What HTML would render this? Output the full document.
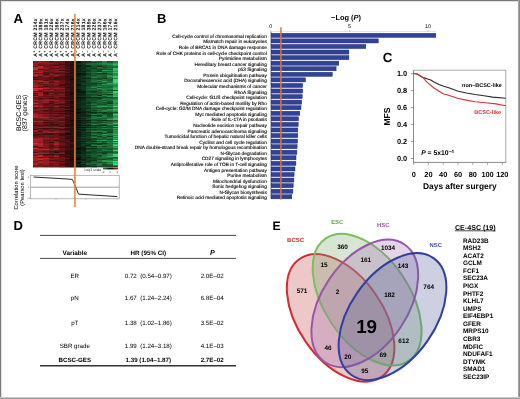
<!DOCTYPE html>
<html><head><meta charset="utf-8"><style>
html,body{margin:0;padding:0;background:#fff;}
body{width:520px;height:399px;overflow:hidden;}
svg{display:block;filter:blur(0.25px);font-family:"Liberation Sans", sans-serif;text-rendering:geometricPrecision;}
</style></head><body>
<svg width="520" height="399" viewBox="0 0 520 399">
<rect width="520" height="399" fill="#fff"/>
<rect x="0" y="1" width="520" height="1" fill="#e2e2e2"/>
<rect x="1" y="0" width="1" height="399" fill="#e2e2e2"/>
<rect x="0" y="0" width="520" height="1" fill="#7a7a7a"/>
<rect x="0" y="0" width="1" height="399" fill="#7a7a7a"/>
<rect x="518" y="0" width="1" height="399" fill="#a4a4a4"/>
<rect x="519" y="0" width="1" height="399" fill="#8a8a8a"/>
<rect x="0" y="397" width="520" height="1" fill="#cacaca"/>
<rect x="0" y="398" width="520" height="1" fill="#9a9a9a"/>
<text x="13.6" y="23" font-size="13.2" font-weight="bold" text-anchor="start" fill="#000" >A</text>
<defs><filter id="hb" x="-2%" y="-2%" width="104%" height="104%"><feGaussianBlur stdDeviation="0.45 0.3"/></filter><clipPath id="hc"><rect x="32.5" y="60.6" width="85.5" height="107"/></clipPath></defs>
<g clip-path="url(#hc)"><g filter="url(#hb)" shape-rendering="crispEdges">
<rect x="32.5" y="60.6" width="5.39" height="1.05" fill="#841a1e"/>
<rect x="32.5" y="61.6" width="5.39" height="1.05" fill="#841a1e"/>
<rect x="32.5" y="62.6" width="5.39" height="1.05" fill="#921d21"/>
<rect x="32.5" y="63.6" width="5.39" height="1.05" fill="#901c20"/>
<rect x="32.5" y="64.6" width="5.39" height="1.05" fill="#9c1f23"/>
<rect x="32.5" y="65.6" width="5.39" height="1.05" fill="#6b1518"/>
<rect x="32.5" y="66.6" width="5.39" height="1.05" fill="#c8282d"/>
<rect x="32.5" y="67.6" width="5.39" height="1.05" fill="#c1262c"/>
<rect x="32.5" y="68.6" width="5.39" height="1.05" fill="#d0292f"/>
<rect x="32.5" y="69.6" width="5.39" height="1.05" fill="#8b1b1f"/>
<rect x="32.5" y="70.6" width="5.39" height="1.05" fill="#7e191c"/>
<rect x="32.5" y="71.6" width="5.39" height="1.05" fill="#ad2227"/>
<rect x="32.5" y="72.6" width="5.39" height="1.05" fill="#6b1518"/>
<rect x="32.5" y="73.6" width="5.39" height="1.05" fill="#a12025"/>
<rect x="32.5" y="74.6" width="5.39" height="1.05" fill="#c1262c"/>
<rect x="32.5" y="75.6" width="5.39" height="1.05" fill="#8e1c20"/>
<rect x="32.5" y="76.6" width="5.39" height="1.05" fill="#380b0c"/>
<rect x="32.5" y="77.6" width="5.39" height="1.05" fill="#5f1315"/>
<rect x="32.5" y="78.6" width="5.39" height="1.05" fill="#4c0f11"/>
<rect x="32.5" y="79.6" width="5.39" height="1.05" fill="#971e22"/>
<rect x="32.5" y="80.6" width="5.39" height="1.05" fill="#9b1f23"/>
<rect x="32.5" y="81.6" width="5.39" height="1.05" fill="#7a181b"/>
<rect x="32.5" y="82.6" width="5.39" height="1.05" fill="#961e22"/>
<rect x="32.5" y="83.6" width="5.39" height="1.05" fill="#931d21"/>
<rect x="32.5" y="84.6" width="5.39" height="1.05" fill="#941d22"/>
<rect x="32.5" y="85.6" width="5.39" height="1.05" fill="#bb252a"/>
<rect x="32.5" y="86.6" width="5.39" height="1.05" fill="#7c181c"/>
<rect x="32.5" y="87.6" width="5.39" height="1.05" fill="#d42a30"/>
<rect x="32.5" y="88.6" width="5.39" height="1.05" fill="#c4272d"/>
<rect x="32.5" y="89.6" width="5.39" height="1.05" fill="#da2b31"/>
<rect x="32.5" y="90.6" width="5.39" height="1.05" fill="#6d1519"/>
<rect x="32.5" y="91.6" width="5.39" height="1.05" fill="#921d21"/>
<rect x="32.5" y="92.6" width="5.39" height="1.05" fill="#521012"/>
<rect x="32.5" y="93.6" width="5.39" height="1.05" fill="#6b1518"/>
<rect x="32.5" y="94.6" width="5.39" height="1.05" fill="#5d1215"/>
<rect x="32.5" y="95.6" width="5.39" height="1.05" fill="#b02328"/>
<rect x="32.5" y="96.6" width="5.39" height="1.05" fill="#621316"/>
<rect x="32.5" y="97.6" width="5.39" height="1.05" fill="#77171b"/>
<rect x="32.5" y="98.6" width="5.39" height="1.05" fill="#7c181c"/>
<rect x="32.5" y="99.6" width="5.39" height="1.05" fill="#a42025"/>
<rect x="32.5" y="100.6" width="5.39" height="1.05" fill="#6c1518"/>
<rect x="32.5" y="101.6" width="5.39" height="1.05" fill="#971e22"/>
<rect x="32.5" y="102.6" width="5.39" height="1.05" fill="#ca282e"/>
<rect x="32.5" y="103.6" width="5.39" height="1.05" fill="#6d1519"/>
<rect x="32.5" y="104.6" width="5.39" height="1.05" fill="#9b1f23"/>
<rect x="32.5" y="105.6" width="5.39" height="1.05" fill="#c8282d"/>
<rect x="32.5" y="106.6" width="5.39" height="1.05" fill="#5d1215"/>
<rect x="32.5" y="107.6" width="5.39" height="1.05" fill="#631316"/>
<rect x="32.5" y="108.6" width="5.39" height="1.05" fill="#7a181b"/>
<rect x="32.5" y="109.6" width="5.39" height="1.05" fill="#951d22"/>
<rect x="32.5" y="110.6" width="5.39" height="1.05" fill="#641417"/>
<rect x="32.5" y="111.6" width="5.39" height="1.05" fill="#7a181b"/>
<rect x="32.5" y="112.6" width="5.39" height="1.05" fill="#831a1e"/>
<rect x="32.5" y="113.6" width="5.39" height="1.05" fill="#b62429"/>
<rect x="32.5" y="114.6" width="5.39" height="1.05" fill="#9a1e23"/>
<rect x="32.5" y="115.6" width="5.39" height="1.05" fill="#b9252a"/>
<rect x="32.5" y="116.6" width="5.39" height="1.05" fill="#af2328"/>
<rect x="32.5" y="117.6" width="5.39" height="1.05" fill="#701619"/>
<rect x="32.5" y="118.6" width="5.39" height="1.05" fill="#611316"/>
<rect x="32.5" y="119.6" width="5.39" height="1.05" fill="#621316"/>
<rect x="32.5" y="120.6" width="5.39" height="1.05" fill="#b52429"/>
<rect x="32.5" y="121.6" width="5.39" height="1.05" fill="#701619"/>
<rect x="32.5" y="122.6" width="5.39" height="1.05" fill="#6a1518"/>
<rect x="32.5" y="123.6" width="5.39" height="1.05" fill="#5f1315"/>
<rect x="32.5" y="124.6" width="5.39" height="1.05" fill="#531012"/>
<rect x="32.5" y="125.6" width="5.39" height="1.05" fill="#7d191c"/>
<rect x="32.5" y="126.6" width="5.39" height="1.05" fill="#7f191d"/>
<rect x="32.5" y="127.6" width="5.39" height="1.05" fill="#681417"/>
<rect x="32.5" y="128.6" width="5.39" height="1.05" fill="#390b0d"/>
<rect x="32.5" y="129.6" width="5.39" height="1.05" fill="#9a1e23"/>
<rect x="32.5" y="130.6" width="5.39" height="1.05" fill="#941d21"/>
<rect x="32.5" y="131.6" width="5.39" height="1.05" fill="#5d1215"/>
<rect x="32.5" y="132.6" width="5.39" height="1.05" fill="#72161a"/>
<rect x="32.5" y="133.6" width="5.39" height="1.05" fill="#521012"/>
<rect x="32.5" y="134.6" width="5.39" height="1.05" fill="#511012"/>
<rect x="32.5" y="135.6" width="5.39" height="1.05" fill="#661417"/>
<rect x="32.5" y="136.6" width="5.39" height="1.05" fill="#7b181c"/>
<rect x="32.5" y="137.6" width="5.39" height="1.05" fill="#911d21"/>
<rect x="32.5" y="138.6" width="5.39" height="1.05" fill="#bc252b"/>
<rect x="32.5" y="139.6" width="5.39" height="1.05" fill="#a42025"/>
<rect x="32.5" y="140.6" width="5.39" height="1.05" fill="#a42025"/>
<rect x="32.5" y="141.6" width="5.39" height="1.05" fill="#9e1f24"/>
<rect x="32.5" y="142.6" width="5.39" height="1.05" fill="#db2b32"/>
<rect x="32.5" y="143.6" width="5.39" height="1.05" fill="#ad2227"/>
<rect x="32.5" y="144.6" width="5.39" height="1.05" fill="#a42025"/>
<rect x="32.5" y="145.6" width="5.39" height="1.05" fill="#581114"/>
<rect x="32.5" y="146.6" width="5.39" height="1.05" fill="#7e191c"/>
<rect x="32.5" y="147.6" width="5.39" height="1.05" fill="#d22a30"/>
<rect x="32.5" y="148.6" width="5.39" height="1.05" fill="#961e22"/>
<rect x="32.5" y="149.6" width="5.39" height="1.05" fill="#881b1f"/>
<rect x="32.5" y="150.6" width="5.39" height="1.05" fill="#881b1f"/>
<rect x="32.5" y="151.6" width="5.39" height="1.05" fill="#521012"/>
<rect x="32.5" y="152.6" width="5.39" height="1.05" fill="#ac2227"/>
<rect x="32.5" y="153.6" width="5.39" height="1.05" fill="#971e22"/>
<rect x="32.5" y="154.6" width="5.39" height="1.05" fill="#6e1619"/>
<rect x="32.5" y="155.6" width="5.39" height="1.05" fill="#b72429"/>
<rect x="32.5" y="156.6" width="5.39" height="1.05" fill="#9a1e23"/>
<rect x="32.5" y="157.6" width="5.39" height="1.05" fill="#a92126"/>
<rect x="32.5" y="158.6" width="5.39" height="1.05" fill="#a82126"/>
<rect x="32.5" y="159.6" width="5.39" height="1.05" fill="#a12024"/>
<rect x="32.5" y="160.6" width="5.39" height="1.05" fill="#78181b"/>
<rect x="32.5" y="161.6" width="5.39" height="1.05" fill="#961e22"/>
<rect x="32.5" y="162.6" width="5.39" height="1.05" fill="#961e22"/>
<rect x="32.5" y="163.6" width="5.39" height="1.05" fill="#bf262b"/>
<rect x="32.5" y="164.6" width="5.39" height="1.05" fill="#7d191c"/>
<rect x="32.5" y="165.6" width="5.39" height="1.05" fill="#7e191c"/>
<rect x="32.5" y="166.6" width="5.39" height="1.05" fill="#80191d"/>
<rect x="37.8" y="60.6" width="5.39" height="1.05" fill="#74181b"/>
<rect x="37.8" y="61.6" width="5.39" height="1.05" fill="#a42227"/>
<rect x="37.8" y="62.6" width="5.39" height="1.05" fill="#801a1e"/>
<rect x="37.8" y="63.6" width="5.39" height="1.05" fill="#661518"/>
<rect x="37.8" y="64.6" width="5.39" height="1.05" fill="#5d1316"/>
<rect x="37.8" y="65.6" width="5.39" height="1.05" fill="#c0282e"/>
<rect x="37.8" y="66.6" width="5.39" height="1.05" fill="#ba262c"/>
<rect x="37.8" y="67.6" width="5.39" height="1.05" fill="#9b2025"/>
<rect x="37.8" y="68.6" width="5.39" height="1.05" fill="#480f11"/>
<rect x="37.8" y="69.6" width="5.39" height="1.05" fill="#971f24"/>
<rect x="37.8" y="70.6" width="5.39" height="1.05" fill="#961f23"/>
<rect x="37.8" y="71.6" width="5.39" height="1.05" fill="#b2252a"/>
<rect x="37.8" y="72.6" width="5.39" height="1.05" fill="#691519"/>
<rect x="37.8" y="73.6" width="5.39" height="1.05" fill="#901e22"/>
<rect x="37.8" y="74.6" width="5.39" height="1.05" fill="#9a2024"/>
<rect x="37.8" y="75.6" width="5.39" height="1.05" fill="#551114"/>
<rect x="37.8" y="76.6" width="5.39" height="1.05" fill="#75181b"/>
<rect x="37.8" y="77.6" width="5.39" height="1.05" fill="#661518"/>
<rect x="37.8" y="78.6" width="5.39" height="1.05" fill="#601417"/>
<rect x="37.8" y="79.6" width="5.39" height="1.05" fill="#981f24"/>
<rect x="37.8" y="80.6" width="5.39" height="1.05" fill="#b9262c"/>
<rect x="37.8" y="81.6" width="5.39" height="1.05" fill="#5c1316"/>
<rect x="37.8" y="82.6" width="5.39" height="1.05" fill="#79191c"/>
<rect x="37.8" y="83.6" width="5.39" height="1.05" fill="#7c191d"/>
<rect x="37.8" y="84.6" width="5.39" height="1.05" fill="#8d1d21"/>
<rect x="37.8" y="85.6" width="5.39" height="1.05" fill="#7e1a1e"/>
<rect x="37.8" y="86.6" width="5.39" height="1.05" fill="#5e1316"/>
<rect x="37.8" y="87.6" width="5.39" height="1.05" fill="#d02b31"/>
<rect x="37.8" y="88.6" width="5.39" height="1.05" fill="#aa2328"/>
<rect x="37.8" y="89.6" width="5.39" height="1.05" fill="#74181b"/>
<rect x="37.8" y="90.6" width="5.39" height="1.05" fill="#561114"/>
<rect x="37.8" y="91.6" width="5.39" height="1.05" fill="#9a2024"/>
<rect x="37.8" y="92.6" width="5.39" height="1.05" fill="#931e23"/>
<rect x="37.8" y="93.6" width="5.39" height="1.05" fill="#ae2429"/>
<rect x="37.8" y="94.6" width="5.39" height="1.05" fill="#a52227"/>
<rect x="37.8" y="95.6" width="5.39" height="1.05" fill="#6f171a"/>
<rect x="37.8" y="96.6" width="5.39" height="1.05" fill="#7f1a1e"/>
<rect x="37.8" y="97.6" width="5.39" height="1.05" fill="#3f0d0f"/>
<rect x="37.8" y="98.6" width="5.39" height="1.05" fill="#651518"/>
<rect x="37.8" y="99.6" width="5.39" height="1.05" fill="#971f24"/>
<rect x="37.8" y="100.6" width="5.39" height="1.05" fill="#7e1a1e"/>
<rect x="37.8" y="101.6" width="5.39" height="1.05" fill="#73171b"/>
<rect x="37.8" y="102.6" width="5.39" height="1.05" fill="#861c20"/>
<rect x="37.8" y="103.6" width="5.39" height="1.05" fill="#6e161a"/>
<rect x="37.8" y="104.6" width="5.39" height="1.05" fill="#8c1d21"/>
<rect x="37.8" y="105.6" width="5.39" height="1.05" fill="#af2429"/>
<rect x="37.8" y="106.6" width="5.39" height="1.05" fill="#5e1316"/>
<rect x="37.8" y="107.6" width="5.39" height="1.05" fill="#73181b"/>
<rect x="37.8" y="108.6" width="5.39" height="1.05" fill="#941e23"/>
<rect x="37.8" y="109.6" width="5.39" height="1.05" fill="#73171b"/>
<rect x="37.8" y="110.6" width="5.39" height="1.05" fill="#74181b"/>
<rect x="37.8" y="111.6" width="5.39" height="1.05" fill="#70171a"/>
<rect x="37.8" y="112.6" width="5.39" height="1.05" fill="#651518"/>
<rect x="37.8" y="113.6" width="5.39" height="1.05" fill="#8e1d22"/>
<rect x="37.8" y="114.6" width="5.39" height="1.05" fill="#931e23"/>
<rect x="37.8" y="115.6" width="5.39" height="1.05" fill="#941e23"/>
<rect x="37.8" y="116.6" width="5.39" height="1.05" fill="#a32127"/>
<rect x="37.8" y="117.6" width="5.39" height="1.05" fill="#851b1f"/>
<rect x="37.8" y="118.6" width="5.39" height="1.05" fill="#631417"/>
<rect x="37.8" y="119.6" width="5.39" height="1.05" fill="#71171b"/>
<rect x="37.8" y="120.6" width="5.39" height="1.05" fill="#ab2328"/>
<rect x="37.8" y="121.6" width="5.39" height="1.05" fill="#801a1e"/>
<rect x="37.8" y="122.6" width="5.39" height="1.05" fill="#74181b"/>
<rect x="37.8" y="123.6" width="5.39" height="1.05" fill="#72171b"/>
<rect x="37.8" y="124.6" width="5.39" height="1.05" fill="#591215"/>
<rect x="37.8" y="125.6" width="5.39" height="1.05" fill="#4a0f11"/>
<rect x="37.8" y="126.6" width="5.39" height="1.05" fill="#9c2025"/>
<rect x="37.8" y="127.6" width="5.39" height="1.05" fill="#490f11"/>
<rect x="37.8" y="128.6" width="5.39" height="1.05" fill="#74181b"/>
<rect x="37.8" y="129.6" width="5.39" height="1.05" fill="#691519"/>
<rect x="37.8" y="130.6" width="5.39" height="1.05" fill="#4b0f11"/>
<rect x="37.8" y="131.6" width="5.39" height="1.05" fill="#6f171a"/>
<rect x="37.8" y="132.6" width="5.39" height="1.05" fill="#7a191d"/>
<rect x="37.8" y="133.6" width="5.39" height="1.05" fill="#4a0f11"/>
<rect x="37.8" y="134.6" width="5.39" height="1.05" fill="#631417"/>
<rect x="37.8" y="135.6" width="5.39" height="1.05" fill="#611417"/>
<rect x="37.8" y="136.6" width="5.39" height="1.05" fill="#77181c"/>
<rect x="37.8" y="137.6" width="5.39" height="1.05" fill="#a32227"/>
<rect x="37.8" y="138.6" width="5.39" height="1.05" fill="#9c2025"/>
<rect x="37.8" y="139.6" width="5.39" height="1.05" fill="#ac2329"/>
<rect x="37.8" y="140.6" width="5.39" height="1.05" fill="#991f24"/>
<rect x="37.8" y="141.6" width="5.39" height="1.05" fill="#891c20"/>
<rect x="37.8" y="142.6" width="5.39" height="1.05" fill="#b4252a"/>
<rect x="37.8" y="143.6" width="5.39" height="1.05" fill="#bd272d"/>
<rect x="37.8" y="144.6" width="5.39" height="1.05" fill="#a72227"/>
<rect x="37.8" y="145.6" width="5.39" height="1.05" fill="#a92328"/>
<rect x="37.8" y="146.6" width="5.39" height="1.05" fill="#4d1012"/>
<rect x="37.8" y="147.6" width="5.39" height="1.05" fill="#961f23"/>
<rect x="37.8" y="148.6" width="5.39" height="1.05" fill="#aa2328"/>
<rect x="37.8" y="149.6" width="5.39" height="1.05" fill="#841b1f"/>
<rect x="37.8" y="150.6" width="5.39" height="1.05" fill="#6f171a"/>
<rect x="37.8" y="151.6" width="5.39" height="1.05" fill="#831b1f"/>
<rect x="37.8" y="152.6" width="5.39" height="1.05" fill="#ad2329"/>
<rect x="37.8" y="153.6" width="5.39" height="1.05" fill="#5a1215"/>
<rect x="37.8" y="154.6" width="5.39" height="1.05" fill="#be272d"/>
<rect x="37.8" y="155.6" width="5.39" height="1.05" fill="#bb262c"/>
<rect x="37.8" y="156.6" width="5.39" height="1.05" fill="#631417"/>
<rect x="37.8" y="157.6" width="5.39" height="1.05" fill="#a42227"/>
<rect x="37.8" y="158.6" width="5.39" height="1.05" fill="#d02b31"/>
<rect x="37.8" y="159.6" width="5.39" height="1.05" fill="#76181c"/>
<rect x="37.8" y="160.6" width="5.39" height="1.05" fill="#a02126"/>
<rect x="37.8" y="161.6" width="5.39" height="1.05" fill="#aa2328"/>
<rect x="37.8" y="162.6" width="5.39" height="1.05" fill="#841b1f"/>
<rect x="37.8" y="163.6" width="5.39" height="1.05" fill="#74181b"/>
<rect x="37.8" y="164.6" width="5.39" height="1.05" fill="#79191c"/>
<rect x="37.8" y="165.6" width="5.39" height="1.05" fill="#821b1f"/>
<rect x="37.8" y="166.6" width="5.39" height="1.05" fill="#b8262b"/>
<rect x="43.2" y="60.6" width="5.39" height="1.05" fill="#851b20"/>
<rect x="43.2" y="61.6" width="5.39" height="1.05" fill="#811b1f"/>
<rect x="43.2" y="62.6" width="5.39" height="1.05" fill="#871c20"/>
<rect x="43.2" y="63.6" width="5.39" height="1.05" fill="#7e1a1e"/>
<rect x="43.2" y="64.6" width="5.39" height="1.05" fill="#6b1619"/>
<rect x="43.2" y="65.6" width="5.39" height="1.05" fill="#75181c"/>
<rect x="43.2" y="66.6" width="5.39" height="1.05" fill="#851b20"/>
<rect x="43.2" y="67.6" width="5.39" height="1.05" fill="#911e23"/>
<rect x="43.2" y="68.6" width="5.39" height="1.05" fill="#6d161a"/>
<rect x="43.2" y="69.6" width="5.39" height="1.05" fill="#6c161a"/>
<rect x="43.2" y="70.6" width="5.39" height="1.05" fill="#7f1a1e"/>
<rect x="43.2" y="71.6" width="5.39" height="1.05" fill="#571215"/>
<rect x="43.2" y="72.6" width="5.39" height="1.05" fill="#521113"/>
<rect x="43.2" y="73.6" width="5.39" height="1.05" fill="#501013"/>
<rect x="43.2" y="74.6" width="5.39" height="1.05" fill="#6f171a"/>
<rect x="43.2" y="75.6" width="5.39" height="1.05" fill="#8f1d22"/>
<rect x="43.2" y="76.6" width="5.39" height="1.05" fill="#631418"/>
<rect x="43.2" y="77.6" width="5.39" height="1.05" fill="#571215"/>
<rect x="43.2" y="78.6" width="5.39" height="1.05" fill="#631417"/>
<rect x="43.2" y="79.6" width="5.39" height="1.05" fill="#4f1013"/>
<rect x="43.2" y="80.6" width="5.39" height="1.05" fill="#ab2329"/>
<rect x="43.2" y="81.6" width="5.39" height="1.05" fill="#831b1f"/>
<rect x="43.2" y="82.6" width="5.39" height="1.05" fill="#9d2026"/>
<rect x="43.2" y="83.6" width="5.39" height="1.05" fill="#591215"/>
<rect x="43.2" y="84.6" width="5.39" height="1.05" fill="#78191d"/>
<rect x="43.2" y="85.6" width="5.39" height="1.05" fill="#501013"/>
<rect x="43.2" y="86.6" width="5.39" height="1.05" fill="#7c1a1e"/>
<rect x="43.2" y="87.6" width="5.39" height="1.05" fill="#b3252b"/>
<rect x="43.2" y="88.6" width="5.39" height="1.05" fill="#501013"/>
<rect x="43.2" y="89.6" width="5.39" height="1.05" fill="#8c1d21"/>
<rect x="43.2" y="90.6" width="5.39" height="1.05" fill="#7a191d"/>
<rect x="43.2" y="91.6" width="5.39" height="1.05" fill="#450e10"/>
<rect x="43.2" y="92.6" width="5.39" height="1.05" fill="#480f11"/>
<rect x="43.2" y="93.6" width="5.39" height="1.05" fill="#5c1316"/>
<rect x="43.2" y="94.6" width="5.39" height="1.05" fill="#72171b"/>
<rect x="43.2" y="95.6" width="5.39" height="1.05" fill="#591215"/>
<rect x="43.2" y="96.6" width="5.39" height="1.05" fill="#70171b"/>
<rect x="43.2" y="97.6" width="5.39" height="1.05" fill="#6b161a"/>
<rect x="43.2" y="98.6" width="5.39" height="1.05" fill="#7c191e"/>
<rect x="43.2" y="99.6" width="5.39" height="1.05" fill="#a12127"/>
<rect x="43.2" y="100.6" width="5.39" height="1.05" fill="#891c21"/>
<rect x="43.2" y="101.6" width="5.39" height="1.05" fill="#991f25"/>
<rect x="43.2" y="102.6" width="5.39" height="1.05" fill="#5e1316"/>
<rect x="43.2" y="103.6" width="5.39" height="1.05" fill="#531114"/>
<rect x="43.2" y="104.6" width="5.39" height="1.05" fill="#5f1317"/>
<rect x="43.2" y="105.6" width="5.39" height="1.05" fill="#70171b"/>
<rect x="43.2" y="106.6" width="5.39" height="1.05" fill="#521113"/>
<rect x="43.2" y="107.6" width="5.39" height="1.05" fill="#72171b"/>
<rect x="43.2" y="108.6" width="5.39" height="1.05" fill="#811b1f"/>
<rect x="43.2" y="109.6" width="5.39" height="1.05" fill="#470e11"/>
<rect x="43.2" y="110.6" width="5.39" height="1.05" fill="#611417"/>
<rect x="43.2" y="111.6" width="5.39" height="1.05" fill="#76181c"/>
<rect x="43.2" y="112.6" width="5.39" height="1.05" fill="#591215"/>
<rect x="43.2" y="113.6" width="5.39" height="1.05" fill="#7e1a1e"/>
<rect x="43.2" y="114.6" width="5.39" height="1.05" fill="#821b1f"/>
<rect x="43.2" y="115.6" width="5.39" height="1.05" fill="#74181c"/>
<rect x="43.2" y="116.6" width="5.39" height="1.05" fill="#a62228"/>
<rect x="43.2" y="117.6" width="5.39" height="1.05" fill="#871c20"/>
<rect x="43.2" y="118.6" width="5.39" height="1.05" fill="#78191d"/>
<rect x="43.2" y="119.6" width="5.39" height="1.05" fill="#531114"/>
<rect x="43.2" y="120.6" width="5.39" height="1.05" fill="#7e1a1e"/>
<rect x="43.2" y="121.6" width="5.39" height="1.05" fill="#310a0c"/>
<rect x="43.2" y="122.6" width="5.39" height="1.05" fill="#591215"/>
<rect x="43.2" y="123.6" width="5.39" height="1.05" fill="#611417"/>
<rect x="43.2" y="124.6" width="5.39" height="1.05" fill="#470e11"/>
<rect x="43.2" y="125.6" width="5.39" height="1.05" fill="#72171b"/>
<rect x="43.2" y="126.6" width="5.39" height="1.05" fill="#931e23"/>
<rect x="43.2" y="127.6" width="5.39" height="1.05" fill="#3c0c0e"/>
<rect x="43.2" y="128.6" width="5.39" height="1.05" fill="#591215"/>
<rect x="43.2" y="129.6" width="5.39" height="1.05" fill="#74181c"/>
<rect x="43.2" y="130.6" width="5.39" height="1.05" fill="#9f2126"/>
<rect x="43.2" y="131.6" width="5.39" height="1.05" fill="#921e23"/>
<rect x="43.2" y="132.6" width="5.39" height="1.05" fill="#551114"/>
<rect x="43.2" y="133.6" width="5.39" height="1.05" fill="#3d0c0e"/>
<rect x="43.2" y="134.6" width="5.39" height="1.05" fill="#7a191d"/>
<rect x="43.2" y="135.6" width="5.39" height="1.05" fill="#691519"/>
<rect x="43.2" y="136.6" width="5.39" height="1.05" fill="#72171b"/>
<rect x="43.2" y="137.6" width="5.39" height="1.05" fill="#911e23"/>
<rect x="43.2" y="138.6" width="5.39" height="1.05" fill="#77181c"/>
<rect x="43.2" y="139.6" width="5.39" height="1.05" fill="#591215"/>
<rect x="43.2" y="140.6" width="5.39" height="1.05" fill="#73171b"/>
<rect x="43.2" y="141.6" width="5.39" height="1.05" fill="#6c161a"/>
<rect x="43.2" y="142.6" width="5.39" height="1.05" fill="#73181b"/>
<rect x="43.2" y="143.6" width="5.39" height="1.05" fill="#801a1e"/>
<rect x="43.2" y="144.6" width="5.39" height="1.05" fill="#74181c"/>
<rect x="43.2" y="145.6" width="5.39" height="1.05" fill="#841b20"/>
<rect x="43.2" y="146.6" width="5.39" height="1.05" fill="#651518"/>
<rect x="43.2" y="147.6" width="5.39" height="1.05" fill="#831b1f"/>
<rect x="43.2" y="148.6" width="5.39" height="1.05" fill="#c0282e"/>
<rect x="43.2" y="149.6" width="5.39" height="1.05" fill="#79191d"/>
<rect x="43.2" y="150.6" width="5.39" height="1.05" fill="#671518"/>
<rect x="43.2" y="151.6" width="5.39" height="1.05" fill="#6f171a"/>
<rect x="43.2" y="152.6" width="5.39" height="1.05" fill="#a52227"/>
<rect x="43.2" y="153.6" width="5.39" height="1.05" fill="#2d090b"/>
<rect x="43.2" y="154.6" width="5.39" height="1.05" fill="#631417"/>
<rect x="43.2" y="155.6" width="5.39" height="1.05" fill="#911e23"/>
<rect x="43.2" y="156.6" width="5.39" height="1.05" fill="#6c161a"/>
<rect x="43.2" y="157.6" width="5.39" height="1.05" fill="#c0282e"/>
<rect x="43.2" y="158.6" width="5.39" height="1.05" fill="#8a1c21"/>
<rect x="43.2" y="159.6" width="5.39" height="1.05" fill="#931e23"/>
<rect x="43.2" y="160.6" width="5.39" height="1.05" fill="#911e23"/>
<rect x="43.2" y="161.6" width="5.39" height="1.05" fill="#9c2025"/>
<rect x="43.2" y="162.6" width="5.39" height="1.05" fill="#861c20"/>
<rect x="43.2" y="163.6" width="5.39" height="1.05" fill="#881c20"/>
<rect x="43.2" y="164.6" width="5.39" height="1.05" fill="#77181c"/>
<rect x="43.2" y="165.6" width="5.39" height="1.05" fill="#581215"/>
<rect x="43.2" y="166.6" width="5.39" height="1.05" fill="#ab2329"/>
<rect x="48.5" y="60.6" width="5.39" height="1.05" fill="#4c1013"/>
<rect x="48.5" y="61.6" width="5.39" height="1.05" fill="#71171c"/>
<rect x="48.5" y="62.6" width="5.39" height="1.05" fill="#891c22"/>
<rect x="48.5" y="63.6" width="5.39" height="1.05" fill="#5b1316"/>
<rect x="48.5" y="64.6" width="5.39" height="1.05" fill="#561215"/>
<rect x="48.5" y="65.6" width="5.39" height="1.05" fill="#77191d"/>
<rect x="48.5" y="66.6" width="5.39" height="1.05" fill="#75181d"/>
<rect x="48.5" y="67.6" width="5.39" height="1.05" fill="#591216"/>
<rect x="48.5" y="68.6" width="5.39" height="1.05" fill="#79191e"/>
<rect x="48.5" y="69.6" width="5.39" height="1.05" fill="#73181c"/>
<rect x="48.5" y="70.6" width="5.39" height="1.05" fill="#78191e"/>
<rect x="48.5" y="71.6" width="5.39" height="1.05" fill="#561215"/>
<rect x="48.5" y="72.6" width="5.39" height="1.05" fill="#651519"/>
<rect x="48.5" y="73.6" width="5.39" height="1.05" fill="#961f25"/>
<rect x="48.5" y="74.6" width="5.39" height="1.05" fill="#6b161a"/>
<rect x="48.5" y="75.6" width="5.39" height="1.05" fill="#71171c"/>
<rect x="48.5" y="76.6" width="5.39" height="1.05" fill="#440e11"/>
<rect x="48.5" y="77.6" width="5.39" height="1.05" fill="#5e1317"/>
<rect x="48.5" y="78.6" width="5.39" height="1.05" fill="#4a0f12"/>
<rect x="48.5" y="79.6" width="5.39" height="1.05" fill="#69161a"/>
<rect x="48.5" y="80.6" width="5.39" height="1.05" fill="#5e1317"/>
<rect x="48.5" y="81.6" width="5.39" height="1.05" fill="#551115"/>
<rect x="48.5" y="82.6" width="5.39" height="1.05" fill="#7b191e"/>
<rect x="48.5" y="83.6" width="5.39" height="1.05" fill="#72181c"/>
<rect x="48.5" y="84.6" width="5.39" height="1.05" fill="#68151a"/>
<rect x="48.5" y="85.6" width="5.39" height="1.05" fill="#5b1316"/>
<rect x="48.5" y="86.6" width="5.39" height="1.05" fill="#68151a"/>
<rect x="48.5" y="87.6" width="5.39" height="1.05" fill="#7c1a1f"/>
<rect x="48.5" y="88.6" width="5.39" height="1.05" fill="#73181c"/>
<rect x="48.5" y="89.6" width="5.39" height="1.05" fill="#992026"/>
<rect x="48.5" y="90.6" width="5.39" height="1.05" fill="#6f171b"/>
<rect x="48.5" y="91.6" width="5.39" height="1.05" fill="#4f1013"/>
<rect x="48.5" y="92.6" width="5.39" height="1.05" fill="#8a1d22"/>
<rect x="48.5" y="93.6" width="5.39" height="1.05" fill="#621418"/>
<rect x="48.5" y="94.6" width="5.39" height="1.05" fill="#7e1a1f"/>
<rect x="48.5" y="95.6" width="5.39" height="1.05" fill="#5a1216"/>
<rect x="48.5" y="96.6" width="5.39" height="1.05" fill="#5c1317"/>
<rect x="48.5" y="97.6" width="5.39" height="1.05" fill="#370b0d"/>
<rect x="48.5" y="98.6" width="5.39" height="1.05" fill="#7d1a1f"/>
<rect x="48.5" y="99.6" width="5.39" height="1.05" fill="#961f25"/>
<rect x="48.5" y="100.6" width="5.39" height="1.05" fill="#420d10"/>
<rect x="48.5" y="101.6" width="5.39" height="1.05" fill="#480f12"/>
<rect x="48.5" y="102.6" width="5.39" height="1.05" fill="#470f11"/>
<rect x="48.5" y="103.6" width="5.39" height="1.05" fill="#5f1417"/>
<rect x="48.5" y="104.6" width="5.39" height="1.05" fill="#5b1316"/>
<rect x="48.5" y="105.6" width="5.39" height="1.05" fill="#76181d"/>
<rect x="48.5" y="106.6" width="5.39" height="1.05" fill="#410d10"/>
<rect x="48.5" y="107.6" width="5.39" height="1.05" fill="#5c1317"/>
<rect x="48.5" y="108.6" width="5.39" height="1.05" fill="#4c1013"/>
<rect x="48.5" y="109.6" width="5.39" height="1.05" fill="#581216"/>
<rect x="48.5" y="110.6" width="5.39" height="1.05" fill="#4c1013"/>
<rect x="48.5" y="111.6" width="5.39" height="1.05" fill="#611418"/>
<rect x="48.5" y="112.6" width="5.39" height="1.05" fill="#521114"/>
<rect x="48.5" y="113.6" width="5.39" height="1.05" fill="#7a191e"/>
<rect x="48.5" y="114.6" width="5.39" height="1.05" fill="#68161a"/>
<rect x="48.5" y="115.6" width="5.39" height="1.05" fill="#5d1317"/>
<rect x="48.5" y="116.6" width="5.39" height="1.05" fill="#7d1a1f"/>
<rect x="48.5" y="117.6" width="5.39" height="1.05" fill="#5f1317"/>
<rect x="48.5" y="118.6" width="5.39" height="1.05" fill="#851c21"/>
<rect x="48.5" y="119.6" width="5.39" height="1.05" fill="#5c1317"/>
<rect x="48.5" y="120.6" width="5.39" height="1.05" fill="#6a161a"/>
<rect x="48.5" y="121.6" width="5.39" height="1.05" fill="#521114"/>
<rect x="48.5" y="122.6" width="5.39" height="1.05" fill="#501014"/>
<rect x="48.5" y="123.6" width="5.39" height="1.05" fill="#410d10"/>
<rect x="48.5" y="124.6" width="5.39" height="1.05" fill="#4f1013"/>
<rect x="48.5" y="125.6" width="5.39" height="1.05" fill="#611418"/>
<rect x="48.5" y="126.6" width="5.39" height="1.05" fill="#831b20"/>
<rect x="48.5" y="127.6" width="5.39" height="1.05" fill="#4d1013"/>
<rect x="48.5" y="128.6" width="5.39" height="1.05" fill="#6e171b"/>
<rect x="48.5" y="129.6" width="5.39" height="1.05" fill="#581216"/>
<rect x="48.5" y="130.6" width="5.39" height="1.05" fill="#79191e"/>
<rect x="48.5" y="131.6" width="5.39" height="1.05" fill="#a02128"/>
<rect x="48.5" y="132.6" width="5.39" height="1.05" fill="#2c090b"/>
<rect x="48.5" y="133.6" width="5.39" height="1.05" fill="#370b0d"/>
<rect x="48.5" y="134.6" width="5.39" height="1.05" fill="#6c161b"/>
<rect x="48.5" y="135.6" width="5.39" height="1.05" fill="#5b1316"/>
<rect x="48.5" y="136.6" width="5.39" height="1.05" fill="#591216"/>
<rect x="48.5" y="137.6" width="5.39" height="1.05" fill="#6d161b"/>
<rect x="48.5" y="138.6" width="5.39" height="1.05" fill="#7d1a1f"/>
<rect x="48.5" y="139.6" width="5.39" height="1.05" fill="#671519"/>
<rect x="48.5" y="140.6" width="5.39" height="1.05" fill="#77191d"/>
<rect x="48.5" y="141.6" width="5.39" height="1.05" fill="#420d10"/>
<rect x="48.5" y="142.6" width="5.39" height="1.05" fill="#651519"/>
<rect x="48.5" y="143.6" width="5.39" height="1.05" fill="#6d161b"/>
<rect x="48.5" y="144.6" width="5.39" height="1.05" fill="#551115"/>
<rect x="48.5" y="145.6" width="5.39" height="1.05" fill="#551115"/>
<rect x="48.5" y="146.6" width="5.39" height="1.05" fill="#561215"/>
<rect x="48.5" y="147.6" width="5.39" height="1.05" fill="#671519"/>
<rect x="48.5" y="148.6" width="5.39" height="1.05" fill="#801b20"/>
<rect x="48.5" y="149.6" width="5.39" height="1.05" fill="#7c1a1f"/>
<rect x="48.5" y="150.6" width="5.39" height="1.05" fill="#4a0f12"/>
<rect x="48.5" y="151.6" width="5.39" height="1.05" fill="#631418"/>
<rect x="48.5" y="152.6" width="5.39" height="1.05" fill="#6e171b"/>
<rect x="48.5" y="153.6" width="5.39" height="1.05" fill="#340a0d"/>
<rect x="48.5" y="154.6" width="5.39" height="1.05" fill="#601418"/>
<rect x="48.5" y="155.6" width="5.39" height="1.05" fill="#7d1a1f"/>
<rect x="48.5" y="156.6" width="5.39" height="1.05" fill="#470f11"/>
<rect x="48.5" y="157.6" width="5.39" height="1.05" fill="#79191e"/>
<rect x="48.5" y="158.6" width="5.39" height="1.05" fill="#7c1a1f"/>
<rect x="48.5" y="159.6" width="5.39" height="1.05" fill="#501014"/>
<rect x="48.5" y="160.6" width="5.39" height="1.05" fill="#76181d"/>
<rect x="48.5" y="161.6" width="5.39" height="1.05" fill="#961f25"/>
<rect x="48.5" y="162.6" width="5.39" height="1.05" fill="#5a1316"/>
<rect x="48.5" y="163.6" width="5.39" height="1.05" fill="#78191e"/>
<rect x="48.5" y="164.6" width="5.39" height="1.05" fill="#571215"/>
<rect x="48.5" y="165.6" width="5.39" height="1.05" fill="#7a191e"/>
<rect x="48.5" y="166.6" width="5.39" height="1.05" fill="#7a191e"/>
<rect x="53.9" y="60.6" width="5.39" height="1.05" fill="#7c1a1e"/>
<rect x="53.9" y="61.6" width="5.39" height="1.05" fill="#661519"/>
<rect x="53.9" y="62.6" width="5.39" height="1.05" fill="#69161a"/>
<rect x="53.9" y="63.6" width="5.39" height="1.05" fill="#681519"/>
<rect x="53.9" y="64.6" width="5.39" height="1.05" fill="#3d0c0e"/>
<rect x="53.9" y="65.6" width="5.39" height="1.05" fill="#891c21"/>
<rect x="53.9" y="66.6" width="5.39" height="1.05" fill="#971f25"/>
<rect x="53.9" y="67.6" width="5.39" height="1.05" fill="#4c0f12"/>
<rect x="53.9" y="68.6" width="5.39" height="1.05" fill="#921e23"/>
<rect x="53.9" y="69.6" width="5.39" height="1.05" fill="#6f171b"/>
<rect x="53.9" y="70.6" width="5.39" height="1.05" fill="#7e1a1f"/>
<rect x="53.9" y="71.6" width="5.39" height="1.05" fill="#79191d"/>
<rect x="53.9" y="72.6" width="5.39" height="1.05" fill="#390c0e"/>
<rect x="53.9" y="73.6" width="5.39" height="1.05" fill="#76181d"/>
<rect x="53.9" y="74.6" width="5.39" height="1.05" fill="#992025"/>
<rect x="53.9" y="75.6" width="5.39" height="1.05" fill="#681519"/>
<rect x="53.9" y="76.6" width="5.39" height="1.05" fill="#410d10"/>
<rect x="53.9" y="77.6" width="5.39" height="1.05" fill="#3b0c0e"/>
<rect x="53.9" y="78.6" width="5.39" height="1.05" fill="#480f11"/>
<rect x="53.9" y="79.6" width="5.39" height="1.05" fill="#6d161a"/>
<rect x="53.9" y="80.6" width="5.39" height="1.05" fill="#992025"/>
<rect x="53.9" y="81.6" width="5.39" height="1.05" fill="#76181d"/>
<rect x="53.9" y="82.6" width="5.39" height="1.05" fill="#7c1a1e"/>
<rect x="53.9" y="83.6" width="5.39" height="1.05" fill="#8f1e23"/>
<rect x="53.9" y="84.6" width="5.39" height="1.05" fill="#671519"/>
<rect x="53.9" y="85.6" width="5.39" height="1.05" fill="#641518"/>
<rect x="53.9" y="86.6" width="5.39" height="1.05" fill="#6d161a"/>
<rect x="53.9" y="87.6" width="5.39" height="1.05" fill="#992025"/>
<rect x="53.9" y="88.6" width="5.39" height="1.05" fill="#5e1317"/>
<rect x="53.9" y="89.6" width="5.39" height="1.05" fill="#631418"/>
<rect x="53.9" y="90.6" width="5.39" height="1.05" fill="#691619"/>
<rect x="53.9" y="91.6" width="5.39" height="1.05" fill="#661519"/>
<rect x="53.9" y="92.6" width="5.39" height="1.05" fill="#4d1012"/>
<rect x="53.9" y="93.6" width="5.39" height="1.05" fill="#671519"/>
<rect x="53.9" y="94.6" width="5.39" height="1.05" fill="#6b161a"/>
<rect x="53.9" y="95.6" width="5.39" height="1.05" fill="#7c1a1e"/>
<rect x="53.9" y="96.6" width="5.39" height="1.05" fill="#641418"/>
<rect x="53.9" y="97.6" width="5.39" height="1.05" fill="#5c1316"/>
<rect x="53.9" y="98.6" width="5.39" height="1.05" fill="#5e1317"/>
<rect x="53.9" y="99.6" width="5.39" height="1.05" fill="#9d2026"/>
<rect x="53.9" y="100.6" width="5.39" height="1.05" fill="#7b191e"/>
<rect x="53.9" y="101.6" width="5.39" height="1.05" fill="#691619"/>
<rect x="53.9" y="102.6" width="5.39" height="1.05" fill="#881c21"/>
<rect x="53.9" y="103.6" width="5.39" height="1.05" fill="#480f11"/>
<rect x="53.9" y="104.6" width="5.39" height="1.05" fill="#70171b"/>
<rect x="53.9" y="105.6" width="5.39" height="1.05" fill="#971f25"/>
<rect x="53.9" y="106.6" width="5.39" height="1.05" fill="#641418"/>
<rect x="53.9" y="107.6" width="5.39" height="1.05" fill="#601417"/>
<rect x="53.9" y="108.6" width="5.39" height="1.05" fill="#6a161a"/>
<rect x="53.9" y="109.6" width="5.39" height="1.05" fill="#641418"/>
<rect x="53.9" y="110.6" width="5.39" height="1.05" fill="#521114"/>
<rect x="53.9" y="111.6" width="5.39" height="1.05" fill="#6d161a"/>
<rect x="53.9" y="112.6" width="5.39" height="1.05" fill="#4a0f12"/>
<rect x="53.9" y="113.6" width="5.39" height="1.05" fill="#841b20"/>
<rect x="53.9" y="114.6" width="5.39" height="1.05" fill="#5d1316"/>
<rect x="53.9" y="115.6" width="5.39" height="1.05" fill="#4b0f12"/>
<rect x="53.9" y="116.6" width="5.39" height="1.05" fill="#861c21"/>
<rect x="53.9" y="117.6" width="5.39" height="1.05" fill="#7a191d"/>
<rect x="53.9" y="118.6" width="5.39" height="1.05" fill="#631418"/>
<rect x="53.9" y="119.6" width="5.39" height="1.05" fill="#681519"/>
<rect x="53.9" y="120.6" width="5.39" height="1.05" fill="#71171b"/>
<rect x="53.9" y="121.6" width="5.39" height="1.05" fill="#571215"/>
<rect x="53.9" y="122.6" width="5.39" height="1.05" fill="#70171b"/>
<rect x="53.9" y="123.6" width="5.39" height="1.05" fill="#3d0c0f"/>
<rect x="53.9" y="124.6" width="5.39" height="1.05" fill="#511013"/>
<rect x="53.9" y="125.6" width="5.39" height="1.05" fill="#641518"/>
<rect x="53.9" y="126.6" width="5.39" height="1.05" fill="#992025"/>
<rect x="53.9" y="127.6" width="5.39" height="1.05" fill="#490f12"/>
<rect x="53.9" y="128.6" width="5.39" height="1.05" fill="#5b1316"/>
<rect x="53.9" y="129.6" width="5.39" height="1.05" fill="#631418"/>
<rect x="53.9" y="130.6" width="5.39" height="1.05" fill="#8d1d22"/>
<rect x="53.9" y="131.6" width="5.39" height="1.05" fill="#9f2127"/>
<rect x="53.9" y="132.6" width="5.39" height="1.05" fill="#430e10"/>
<rect x="53.9" y="133.6" width="5.39" height="1.05" fill="#641518"/>
<rect x="53.9" y="134.6" width="5.39" height="1.05" fill="#641518"/>
<rect x="53.9" y="135.6" width="5.39" height="1.05" fill="#621418"/>
<rect x="53.9" y="136.6" width="5.39" height="1.05" fill="#5e1317"/>
<rect x="53.9" y="137.6" width="5.39" height="1.05" fill="#971f25"/>
<rect x="53.9" y="138.6" width="5.39" height="1.05" fill="#601417"/>
<rect x="53.9" y="139.6" width="5.39" height="1.05" fill="#410d10"/>
<rect x="53.9" y="140.6" width="5.39" height="1.05" fill="#7f1a1f"/>
<rect x="53.9" y="141.6" width="5.39" height="1.05" fill="#871c21"/>
<rect x="53.9" y="142.6" width="5.39" height="1.05" fill="#992025"/>
<rect x="53.9" y="143.6" width="5.39" height="1.05" fill="#b0242b"/>
<rect x="53.9" y="144.6" width="5.39" height="1.05" fill="#7b191e"/>
<rect x="53.9" y="145.6" width="5.39" height="1.05" fill="#7d1a1e"/>
<rect x="53.9" y="146.6" width="5.39" height="1.05" fill="#631418"/>
<rect x="53.9" y="147.6" width="5.39" height="1.05" fill="#8c1d22"/>
<rect x="53.9" y="148.6" width="5.39" height="1.05" fill="#a72329"/>
<rect x="53.9" y="149.6" width="5.39" height="1.05" fill="#591215"/>
<rect x="53.9" y="150.6" width="5.39" height="1.05" fill="#470e11"/>
<rect x="53.9" y="151.6" width="5.39" height="1.05" fill="#260809"/>
<rect x="53.9" y="152.6" width="5.39" height="1.05" fill="#901e23"/>
<rect x="53.9" y="153.6" width="5.39" height="1.05" fill="#4a0f12"/>
<rect x="53.9" y="154.6" width="5.39" height="1.05" fill="#7e1a1f"/>
<rect x="53.9" y="155.6" width="5.39" height="1.05" fill="#b0242b"/>
<rect x="53.9" y="156.6" width="5.39" height="1.05" fill="#581215"/>
<rect x="53.9" y="157.6" width="5.39" height="1.05" fill="#811b1f"/>
<rect x="53.9" y="158.6" width="5.39" height="1.05" fill="#6b161a"/>
<rect x="53.9" y="159.6" width="5.39" height="1.05" fill="#591215"/>
<rect x="53.9" y="160.6" width="5.39" height="1.05" fill="#641518"/>
<rect x="53.9" y="161.6" width="5.39" height="1.05" fill="#881c21"/>
<rect x="53.9" y="162.6" width="5.39" height="1.05" fill="#70171b"/>
<rect x="53.9" y="163.6" width="5.39" height="1.05" fill="#821b20"/>
<rect x="53.9" y="164.6" width="5.39" height="1.05" fill="#5f1317"/>
<rect x="53.9" y="165.6" width="5.39" height="1.05" fill="#7a191d"/>
<rect x="53.9" y="166.6" width="5.39" height="1.05" fill="#8b1d22"/>
<rect x="59.2" y="60.6" width="5.39" height="1.05" fill="#581216"/>
<rect x="59.2" y="61.6" width="5.39" height="1.05" fill="#73181d"/>
<rect x="59.2" y="62.6" width="5.39" height="1.05" fill="#581216"/>
<rect x="59.2" y="63.6" width="5.39" height="1.05" fill="#450e11"/>
<rect x="59.2" y="64.6" width="5.39" height="1.05" fill="#69161a"/>
<rect x="59.2" y="65.6" width="5.39" height="1.05" fill="#641519"/>
<rect x="59.2" y="66.6" width="5.39" height="1.05" fill="#591216"/>
<rect x="59.2" y="67.6" width="5.39" height="1.05" fill="#7a191f"/>
<rect x="59.2" y="68.6" width="5.39" height="1.05" fill="#75181d"/>
<rect x="59.2" y="69.6" width="5.39" height="1.05" fill="#430e11"/>
<rect x="59.2" y="70.6" width="5.39" height="1.05" fill="#851c21"/>
<rect x="59.2" y="71.6" width="5.39" height="1.05" fill="#68151a"/>
<rect x="59.2" y="72.6" width="5.39" height="1.05" fill="#531115"/>
<rect x="59.2" y="73.6" width="5.39" height="1.05" fill="#6f171c"/>
<rect x="59.2" y="74.6" width="5.39" height="1.05" fill="#631419"/>
<rect x="59.2" y="75.6" width="5.39" height="1.05" fill="#460e11"/>
<rect x="59.2" y="76.6" width="5.39" height="1.05" fill="#541115"/>
<rect x="59.2" y="77.6" width="5.39" height="1.05" fill="#460e11"/>
<rect x="59.2" y="78.6" width="5.39" height="1.05" fill="#4d1013"/>
<rect x="59.2" y="79.6" width="5.39" height="1.05" fill="#5e1317"/>
<rect x="59.2" y="80.6" width="5.39" height="1.05" fill="#641519"/>
<rect x="59.2" y="81.6" width="5.39" height="1.05" fill="#6b161b"/>
<rect x="59.2" y="82.6" width="5.39" height="1.05" fill="#5e1317"/>
<rect x="59.2" y="83.6" width="5.39" height="1.05" fill="#551115"/>
<rect x="59.2" y="84.6" width="5.39" height="1.05" fill="#380b0e"/>
<rect x="59.2" y="85.6" width="5.39" height="1.05" fill="#5c1317"/>
<rect x="59.2" y="86.6" width="5.39" height="1.05" fill="#611418"/>
<rect x="59.2" y="87.6" width="5.39" height="1.05" fill="#971f26"/>
<rect x="59.2" y="88.6" width="5.39" height="1.05" fill="#5f1418"/>
<rect x="59.2" y="89.6" width="5.39" height="1.05" fill="#6d171b"/>
<rect x="59.2" y="90.6" width="5.39" height="1.05" fill="#71171c"/>
<rect x="59.2" y="91.6" width="5.39" height="1.05" fill="#4e1013"/>
<rect x="59.2" y="92.6" width="5.39" height="1.05" fill="#67151a"/>
<rect x="59.2" y="93.6" width="5.39" height="1.05" fill="#7c1a1f"/>
<rect x="59.2" y="94.6" width="5.39" height="1.05" fill="#68161a"/>
<rect x="59.2" y="95.6" width="5.39" height="1.05" fill="#7a191f"/>
<rect x="59.2" y="96.6" width="5.39" height="1.05" fill="#4c1013"/>
<rect x="59.2" y="97.6" width="5.39" height="1.05" fill="#541115"/>
<rect x="59.2" y="98.6" width="5.39" height="1.05" fill="#561215"/>
<rect x="59.2" y="99.6" width="5.39" height="1.05" fill="#72181d"/>
<rect x="59.2" y="100.6" width="5.39" height="1.05" fill="#661519"/>
<rect x="59.2" y="101.6" width="5.39" height="1.05" fill="#911e24"/>
<rect x="59.2" y="102.6" width="5.39" height="1.05" fill="#571216"/>
<rect x="59.2" y="103.6" width="5.39" height="1.05" fill="#410d10"/>
<rect x="59.2" y="104.6" width="5.39" height="1.05" fill="#69161a"/>
<rect x="59.2" y="105.6" width="5.39" height="1.05" fill="#591216"/>
<rect x="59.2" y="106.6" width="5.39" height="1.05" fill="#480f12"/>
<rect x="59.2" y="107.6" width="5.39" height="1.05" fill="#641519"/>
<rect x="59.2" y="108.6" width="5.39" height="1.05" fill="#581216"/>
<rect x="59.2" y="109.6" width="5.39" height="1.05" fill="#5c1317"/>
<rect x="59.2" y="110.6" width="5.39" height="1.05" fill="#460e11"/>
<rect x="59.2" y="111.6" width="5.39" height="1.05" fill="#6c161b"/>
<rect x="59.2" y="112.6" width="5.39" height="1.05" fill="#330a0c"/>
<rect x="59.2" y="113.6" width="5.39" height="1.05" fill="#5b1317"/>
<rect x="59.2" y="114.6" width="5.39" height="1.05" fill="#5c1317"/>
<rect x="59.2" y="115.6" width="5.39" height="1.05" fill="#631519"/>
<rect x="59.2" y="116.6" width="5.39" height="1.05" fill="#871c22"/>
<rect x="59.2" y="117.6" width="5.39" height="1.05" fill="#651519"/>
<rect x="59.2" y="118.6" width="5.39" height="1.05" fill="#591216"/>
<rect x="59.2" y="119.6" width="5.39" height="1.05" fill="#541115"/>
<rect x="59.2" y="120.6" width="5.39" height="1.05" fill="#881c22"/>
<rect x="59.2" y="121.6" width="5.39" height="1.05" fill="#561215"/>
<rect x="59.2" y="122.6" width="5.39" height="1.05" fill="#5f1418"/>
<rect x="59.2" y="123.6" width="5.39" height="1.05" fill="#601418"/>
<rect x="59.2" y="124.6" width="5.39" height="1.05" fill="#551215"/>
<rect x="59.2" y="125.6" width="5.39" height="1.05" fill="#400d10"/>
<rect x="59.2" y="126.6" width="5.39" height="1.05" fill="#982026"/>
<rect x="59.2" y="127.6" width="5.39" height="1.05" fill="#5f1418"/>
<rect x="59.2" y="128.6" width="5.39" height="1.05" fill="#2c090b"/>
<rect x="59.2" y="129.6" width="5.39" height="1.05" fill="#611418"/>
<rect x="59.2" y="130.6" width="5.39" height="1.05" fill="#7d1a1f"/>
<rect x="59.2" y="131.6" width="5.39" height="1.05" fill="#7b191f"/>
<rect x="59.2" y="132.6" width="5.39" height="1.05" fill="#4d1013"/>
<rect x="59.2" y="133.6" width="5.39" height="1.05" fill="#370b0e"/>
<rect x="59.2" y="134.6" width="5.39" height="1.05" fill="#4e1013"/>
<rect x="59.2" y="135.6" width="5.39" height="1.05" fill="#561215"/>
<rect x="59.2" y="136.6" width="5.39" height="1.05" fill="#5f1418"/>
<rect x="59.2" y="137.6" width="5.39" height="1.05" fill="#551115"/>
<rect x="59.2" y="138.6" width="5.39" height="1.05" fill="#571216"/>
<rect x="59.2" y="139.6" width="5.39" height="1.05" fill="#601418"/>
<rect x="59.2" y="140.6" width="5.39" height="1.05" fill="#3c0c0f"/>
<rect x="59.2" y="141.6" width="5.39" height="1.05" fill="#5f1418"/>
<rect x="59.2" y="142.6" width="5.39" height="1.05" fill="#6b161b"/>
<rect x="59.2" y="143.6" width="5.39" height="1.05" fill="#71171c"/>
<rect x="59.2" y="144.6" width="5.39" height="1.05" fill="#581216"/>
<rect x="59.2" y="145.6" width="5.39" height="1.05" fill="#541115"/>
<rect x="59.2" y="146.6" width="5.39" height="1.05" fill="#420e10"/>
<rect x="59.2" y="147.6" width="5.39" height="1.05" fill="#70171c"/>
<rect x="59.2" y="148.6" width="5.39" height="1.05" fill="#5e1317"/>
<rect x="59.2" y="149.6" width="5.39" height="1.05" fill="#661519"/>
<rect x="59.2" y="150.6" width="5.39" height="1.05" fill="#4c1013"/>
<rect x="59.2" y="151.6" width="5.39" height="1.05" fill="#6a161a"/>
<rect x="59.2" y="152.6" width="5.39" height="1.05" fill="#8f1e24"/>
<rect x="59.2" y="153.6" width="5.39" height="1.05" fill="#3a0c0e"/>
<rect x="59.2" y="154.6" width="5.39" height="1.05" fill="#541115"/>
<rect x="59.2" y="155.6" width="5.39" height="1.05" fill="#370b0d"/>
<rect x="59.2" y="156.6" width="5.39" height="1.05" fill="#69161a"/>
<rect x="59.2" y="157.6" width="5.39" height="1.05" fill="#641519"/>
<rect x="59.2" y="158.6" width="5.39" height="1.05" fill="#661519"/>
<rect x="59.2" y="159.6" width="5.39" height="1.05" fill="#661519"/>
<rect x="59.2" y="160.6" width="5.39" height="1.05" fill="#480f12"/>
<rect x="59.2" y="161.6" width="5.39" height="1.05" fill="#71171c"/>
<rect x="59.2" y="162.6" width="5.39" height="1.05" fill="#601418"/>
<rect x="59.2" y="163.6" width="5.39" height="1.05" fill="#460e11"/>
<rect x="59.2" y="164.6" width="5.39" height="1.05" fill="#5a1316"/>
<rect x="59.2" y="165.6" width="5.39" height="1.05" fill="#6e171b"/>
<rect x="59.2" y="166.6" width="5.39" height="1.05" fill="#440e11"/>
<rect x="64.6" y="60.6" width="5.39" height="1.05" fill="#470f12"/>
<rect x="64.6" y="61.6" width="5.39" height="1.05" fill="#470f13"/>
<rect x="64.6" y="62.6" width="5.39" height="1.05" fill="#430e11"/>
<rect x="64.6" y="63.6" width="5.39" height="1.05" fill="#420e11"/>
<rect x="64.6" y="64.6" width="5.39" height="1.05" fill="#450f12"/>
<rect x="64.6" y="65.6" width="5.39" height="1.05" fill="#3b0c0f"/>
<rect x="64.6" y="66.6" width="5.39" height="1.05" fill="#571317"/>
<rect x="64.6" y="67.6" width="5.39" height="1.05" fill="#3e0d10"/>
<rect x="64.6" y="68.6" width="5.39" height="1.05" fill="#541216"/>
<rect x="64.6" y="69.6" width="5.39" height="1.05" fill="#370c0e"/>
<rect x="64.6" y="70.6" width="5.39" height="1.05" fill="#420e11"/>
<rect x="64.6" y="71.6" width="5.39" height="1.05" fill="#581317"/>
<rect x="64.6" y="72.6" width="5.39" height="1.05" fill="#340b0d"/>
<rect x="64.6" y="73.6" width="5.39" height="1.05" fill="#450f12"/>
<rect x="64.6" y="74.6" width="5.39" height="1.05" fill="#350b0e"/>
<rect x="64.6" y="75.6" width="5.39" height="1.05" fill="#390c0f"/>
<rect x="64.6" y="76.6" width="5.39" height="1.05" fill="#310a0d"/>
<rect x="64.6" y="77.6" width="5.39" height="1.05" fill="#380c0e"/>
<rect x="64.6" y="78.6" width="5.39" height="1.05" fill="#3c0d0f"/>
<rect x="64.6" y="79.6" width="5.39" height="1.05" fill="#410e11"/>
<rect x="64.6" y="80.6" width="5.39" height="1.05" fill="#420e11"/>
<rect x="64.6" y="81.6" width="5.39" height="1.05" fill="#501115"/>
<rect x="64.6" y="82.6" width="5.39" height="1.05" fill="#3f0d10"/>
<rect x="64.6" y="83.6" width="5.39" height="1.05" fill="#330b0d"/>
<rect x="64.6" y="84.6" width="5.39" height="1.05" fill="#4e1114"/>
<rect x="64.6" y="85.6" width="5.39" height="1.05" fill="#440f12"/>
<rect x="64.6" y="86.6" width="5.39" height="1.05" fill="#360b0e"/>
<rect x="64.6" y="87.6" width="5.39" height="1.05" fill="#470f12"/>
<rect x="64.6" y="88.6" width="5.39" height="1.05" fill="#410e11"/>
<rect x="64.6" y="89.6" width="5.39" height="1.05" fill="#541216"/>
<rect x="64.6" y="90.6" width="5.39" height="1.05" fill="#3e0d10"/>
<rect x="64.6" y="91.6" width="5.39" height="1.05" fill="#2b090b"/>
<rect x="64.6" y="92.6" width="5.39" height="1.05" fill="#410e11"/>
<rect x="64.6" y="93.6" width="5.39" height="1.05" fill="#410e11"/>
<rect x="64.6" y="94.6" width="5.39" height="1.05" fill="#380c0e"/>
<rect x="64.6" y="95.6" width="5.39" height="1.05" fill="#4c1014"/>
<rect x="64.6" y="96.6" width="5.39" height="1.05" fill="#380c0e"/>
<rect x="64.6" y="97.6" width="5.39" height="1.05" fill="#330b0d"/>
<rect x="64.6" y="98.6" width="5.39" height="1.05" fill="#440e12"/>
<rect x="64.6" y="99.6" width="5.39" height="1.05" fill="#5f1419"/>
<rect x="64.6" y="100.6" width="5.39" height="1.05" fill="#300a0c"/>
<rect x="64.6" y="101.6" width="5.39" height="1.05" fill="#480f13"/>
<rect x="64.6" y="102.6" width="5.39" height="1.05" fill="#380c0e"/>
<rect x="64.6" y="103.6" width="5.39" height="1.05" fill="#480f13"/>
<rect x="64.6" y="104.6" width="5.39" height="1.05" fill="#3a0c0f"/>
<rect x="64.6" y="105.6" width="5.39" height="1.05" fill="#5e1419"/>
<rect x="64.6" y="106.6" width="5.39" height="1.05" fill="#26080a"/>
<rect x="64.6" y="107.6" width="5.39" height="1.05" fill="#460f12"/>
<rect x="64.6" y="108.6" width="5.39" height="1.05" fill="#5a1318"/>
<rect x="64.6" y="109.6" width="5.39" height="1.05" fill="#1b0607"/>
<rect x="64.6" y="110.6" width="5.39" height="1.05" fill="#3e0d10"/>
<rect x="64.6" y="111.6" width="5.39" height="1.05" fill="#450f12"/>
<rect x="64.6" y="112.6" width="5.39" height="1.05" fill="#310a0d"/>
<rect x="64.6" y="113.6" width="5.39" height="1.05" fill="#3e0d10"/>
<rect x="64.6" y="114.6" width="5.39" height="1.05" fill="#64161a"/>
<rect x="64.6" y="115.6" width="5.39" height="1.05" fill="#4a1013"/>
<rect x="64.6" y="116.6" width="5.39" height="1.05" fill="#340b0d"/>
<rect x="64.6" y="117.6" width="5.39" height="1.05" fill="#4f1114"/>
<rect x="64.6" y="118.6" width="5.39" height="1.05" fill="#2a090b"/>
<rect x="64.6" y="119.6" width="5.39" height="1.05" fill="#3f0d10"/>
<rect x="64.6" y="120.6" width="5.39" height="1.05" fill="#3d0d10"/>
<rect x="64.6" y="121.6" width="5.39" height="1.05" fill="#3b0d0f"/>
<rect x="64.6" y="122.6" width="5.39" height="1.05" fill="#4a1013"/>
<rect x="64.6" y="123.6" width="5.39" height="1.05" fill="#350b0e"/>
<rect x="64.6" y="124.6" width="5.39" height="1.05" fill="#27080a"/>
<rect x="64.6" y="125.6" width="5.39" height="1.05" fill="#26080a"/>
<rect x="64.6" y="126.6" width="5.39" height="1.05" fill="#5e1419"/>
<rect x="64.6" y="127.6" width="5.39" height="1.05" fill="#330b0d"/>
<rect x="64.6" y="128.6" width="5.39" height="1.05" fill="#29090b"/>
<rect x="64.6" y="129.6" width="5.39" height="1.05" fill="#4d1014"/>
<rect x="64.6" y="130.6" width="5.39" height="1.05" fill="#551216"/>
<rect x="64.6" y="131.6" width="5.39" height="1.05" fill="#4e1114"/>
<rect x="64.6" y="132.6" width="5.39" height="1.05" fill="#190506"/>
<rect x="64.6" y="133.6" width="5.39" height="1.05" fill="#250809"/>
<rect x="64.6" y="134.6" width="5.39" height="1.05" fill="#4f1115"/>
<rect x="64.6" y="135.6" width="5.39" height="1.05" fill="#410e11"/>
<rect x="64.6" y="136.6" width="5.39" height="1.05" fill="#3e0d10"/>
<rect x="64.6" y="137.6" width="5.39" height="1.05" fill="#250809"/>
<rect x="64.6" y="138.6" width="5.39" height="1.05" fill="#4d1014"/>
<rect x="64.6" y="139.6" width="5.39" height="1.05" fill="#470f13"/>
<rect x="64.6" y="140.6" width="5.39" height="1.05" fill="#64151a"/>
<rect x="64.6" y="141.6" width="5.39" height="1.05" fill="#370c0e"/>
<rect x="64.6" y="142.6" width="5.39" height="1.05" fill="#4a1013"/>
<rect x="64.6" y="143.6" width="5.39" height="1.05" fill="#460f12"/>
<rect x="64.6" y="144.6" width="5.39" height="1.05" fill="#511115"/>
<rect x="64.6" y="145.6" width="5.39" height="1.05" fill="#3f0d10"/>
<rect x="64.6" y="146.6" width="5.39" height="1.05" fill="#3c0d0f"/>
<rect x="64.6" y="147.6" width="5.39" height="1.05" fill="#400e11"/>
<rect x="64.6" y="148.6" width="5.39" height="1.05" fill="#4d1014"/>
<rect x="64.6" y="149.6" width="5.39" height="1.05" fill="#3d0d10"/>
<rect x="64.6" y="150.6" width="5.39" height="1.05" fill="#2e0a0c"/>
<rect x="64.6" y="151.6" width="5.39" height="1.05" fill="#310a0d"/>
<rect x="64.6" y="152.6" width="5.39" height="1.05" fill="#310a0d"/>
<rect x="64.6" y="153.6" width="5.39" height="1.05" fill="#380c0f"/>
<rect x="64.6" y="154.6" width="5.39" height="1.05" fill="#420e11"/>
<rect x="64.6" y="155.6" width="5.39" height="1.05" fill="#410e11"/>
<rect x="64.6" y="156.6" width="5.39" height="1.05" fill="#350b0e"/>
<rect x="64.6" y="157.6" width="5.39" height="1.05" fill="#5f1419"/>
<rect x="64.6" y="158.6" width="5.39" height="1.05" fill="#370c0e"/>
<rect x="64.6" y="159.6" width="5.39" height="1.05" fill="#3d0d10"/>
<rect x="64.6" y="160.6" width="5.39" height="1.05" fill="#4a1013"/>
<rect x="64.6" y="161.6" width="5.39" height="1.05" fill="#4d1014"/>
<rect x="64.6" y="162.6" width="5.39" height="1.05" fill="#3c0d10"/>
<rect x="64.6" y="163.6" width="5.39" height="1.05" fill="#2b090b"/>
<rect x="64.6" y="164.6" width="5.39" height="1.05" fill="#470f13"/>
<rect x="64.6" y="165.6" width="5.39" height="1.05" fill="#3f0d10"/>
<rect x="64.6" y="166.6" width="5.39" height="1.05" fill="#4a1013"/>
<rect x="69.9" y="60.6" width="5.39" height="1.05" fill="#29090b"/>
<rect x="69.9" y="61.6" width="5.39" height="1.05" fill="#340c0e"/>
<rect x="69.9" y="62.6" width="5.39" height="1.05" fill="#28090b"/>
<rect x="69.9" y="63.6" width="5.39" height="1.05" fill="#220809"/>
<rect x="69.9" y="64.6" width="5.39" height="1.05" fill="#210809"/>
<rect x="69.9" y="65.6" width="5.39" height="1.05" fill="#27090b"/>
<rect x="69.9" y="66.6" width="5.39" height="1.05" fill="#2f0b0d"/>
<rect x="69.9" y="67.6" width="5.39" height="1.05" fill="#25080a"/>
<rect x="69.9" y="68.6" width="5.39" height="1.05" fill="#3b0e10"/>
<rect x="69.9" y="69.6" width="5.39" height="1.05" fill="#230809"/>
<rect x="69.9" y="70.6" width="5.39" height="1.05" fill="#370d0f"/>
<rect x="69.9" y="71.6" width="5.39" height="1.05" fill="#25090a"/>
<rect x="69.9" y="72.6" width="5.39" height="1.05" fill="#24080a"/>
<rect x="69.9" y="73.6" width="5.39" height="1.05" fill="#420f12"/>
<rect x="69.9" y="74.6" width="5.39" height="1.05" fill="#330c0e"/>
<rect x="69.9" y="75.6" width="5.39" height="1.05" fill="#2a0a0b"/>
<rect x="69.9" y="76.6" width="5.39" height="1.05" fill="#220809"/>
<rect x="69.9" y="77.6" width="5.39" height="1.05" fill="#220809"/>
<rect x="69.9" y="78.6" width="5.39" height="1.05" fill="#1a0607"/>
<rect x="69.9" y="79.6" width="5.39" height="1.05" fill="#25080a"/>
<rect x="69.9" y="80.6" width="5.39" height="1.05" fill="#310b0e"/>
<rect x="69.9" y="81.6" width="5.39" height="1.05" fill="#29090b"/>
<rect x="69.9" y="82.6" width="5.39" height="1.05" fill="#320c0e"/>
<rect x="69.9" y="83.6" width="5.39" height="1.05" fill="#2f0b0d"/>
<rect x="69.9" y="84.6" width="5.39" height="1.05" fill="#370d0f"/>
<rect x="69.9" y="85.6" width="5.39" height="1.05" fill="#390d10"/>
<rect x="69.9" y="86.6" width="5.39" height="1.05" fill="#2e0b0d"/>
<rect x="69.9" y="87.6" width="5.39" height="1.05" fill="#360d0f"/>
<rect x="69.9" y="88.6" width="5.39" height="1.05" fill="#310b0e"/>
<rect x="69.9" y="89.6" width="5.39" height="1.05" fill="#330c0e"/>
<rect x="69.9" y="90.6" width="5.39" height="1.05" fill="#27090b"/>
<rect x="69.9" y="91.6" width="5.39" height="1.05" fill="#27090b"/>
<rect x="69.9" y="92.6" width="5.39" height="1.05" fill="#1c0608"/>
<rect x="69.9" y="93.6" width="5.39" height="1.05" fill="#2a0a0b"/>
<rect x="69.9" y="94.6" width="5.39" height="1.05" fill="#320b0e"/>
<rect x="69.9" y="95.6" width="5.39" height="1.05" fill="#26090a"/>
<rect x="69.9" y="96.6" width="5.39" height="1.05" fill="#2a0a0c"/>
<rect x="69.9" y="97.6" width="5.39" height="1.05" fill="#2b0a0c"/>
<rect x="69.9" y="98.6" width="5.39" height="1.05" fill="#29090b"/>
<rect x="69.9" y="99.6" width="5.39" height="1.05" fill="#491114"/>
<rect x="69.9" y="100.6" width="5.39" height="1.05" fill="#130405"/>
<rect x="69.9" y="101.6" width="5.39" height="1.05" fill="#2d0a0c"/>
<rect x="69.9" y="102.6" width="5.39" height="1.05" fill="#1f0708"/>
<rect x="69.9" y="103.6" width="5.39" height="1.05" fill="#2a0a0c"/>
<rect x="69.9" y="104.6" width="5.39" height="1.05" fill="#461014"/>
<rect x="69.9" y="105.6" width="5.39" height="1.05" fill="#1b0607"/>
<rect x="69.9" y="106.6" width="5.39" height="1.05" fill="#200709"/>
<rect x="69.9" y="107.6" width="5.39" height="1.05" fill="#300b0d"/>
<rect x="69.9" y="108.6" width="5.39" height="1.05" fill="#2a0a0c"/>
<rect x="69.9" y="109.6" width="5.39" height="1.05" fill="#2c0a0c"/>
<rect x="69.9" y="110.6" width="5.39" height="1.05" fill="#1b0607"/>
<rect x="69.9" y="111.6" width="5.39" height="1.05" fill="#350c0f"/>
<rect x="69.9" y="112.6" width="5.39" height="1.05" fill="#26090a"/>
<rect x="69.9" y="113.6" width="5.39" height="1.05" fill="#330c0e"/>
<rect x="69.9" y="114.6" width="5.39" height="1.05" fill="#2c0a0c"/>
<rect x="69.9" y="115.6" width="5.39" height="1.05" fill="#3b0e10"/>
<rect x="69.9" y="116.6" width="5.39" height="1.05" fill="#320c0e"/>
<rect x="69.9" y="117.6" width="5.39" height="1.05" fill="#320c0e"/>
<rect x="69.9" y="118.6" width="5.39" height="1.05" fill="#2a0a0b"/>
<rect x="69.9" y="119.6" width="5.39" height="1.05" fill="#140405"/>
<rect x="69.9" y="120.6" width="5.39" height="1.05" fill="#310b0e"/>
<rect x="69.9" y="121.6" width="5.39" height="1.05" fill="#2b0a0c"/>
<rect x="69.9" y="122.6" width="5.39" height="1.05" fill="#310b0d"/>
<rect x="69.9" y="123.6" width="5.39" height="1.05" fill="#1e0708"/>
<rect x="69.9" y="124.6" width="5.39" height="1.05" fill="#27090b"/>
<rect x="69.9" y="125.6" width="5.39" height="1.05" fill="#2f0b0d"/>
<rect x="69.9" y="126.6" width="5.39" height="1.05" fill="#380d0f"/>
<rect x="69.9" y="127.6" width="5.39" height="1.05" fill="#27090b"/>
<rect x="69.9" y="128.6" width="5.39" height="1.05" fill="#320c0e"/>
<rect x="69.9" y="129.6" width="5.39" height="1.05" fill="#26090b"/>
<rect x="69.9" y="130.6" width="5.39" height="1.05" fill="#220809"/>
<rect x="69.9" y="131.6" width="5.39" height="1.05" fill="#3a0e10"/>
<rect x="69.9" y="132.6" width="5.39" height="1.05" fill="#2a0a0c"/>
<rect x="69.9" y="133.6" width="5.39" height="1.05" fill="#210809"/>
<rect x="69.9" y="134.6" width="5.39" height="1.05" fill="#380d0f"/>
<rect x="69.9" y="135.6" width="5.39" height="1.05" fill="#23080a"/>
<rect x="69.9" y="136.6" width="5.39" height="1.05" fill="#200709"/>
<rect x="69.9" y="137.6" width="5.39" height="1.05" fill="#3e0e11"/>
<rect x="69.9" y="138.6" width="5.39" height="1.05" fill="#2b0a0c"/>
<rect x="69.9" y="139.6" width="5.39" height="1.05" fill="#1e0708"/>
<rect x="69.9" y="140.6" width="5.39" height="1.05" fill="#26090a"/>
<rect x="69.9" y="141.6" width="5.39" height="1.05" fill="#491114"/>
<rect x="69.9" y="142.6" width="5.39" height="1.05" fill="#491114"/>
<rect x="69.9" y="143.6" width="5.39" height="1.05" fill="#2b0a0c"/>
<rect x="69.9" y="144.6" width="5.39" height="1.05" fill="#2a0a0b"/>
<rect x="69.9" y="145.6" width="5.39" height="1.05" fill="#340c0e"/>
<rect x="69.9" y="146.6" width="5.39" height="1.05" fill="#1d0708"/>
<rect x="69.9" y="147.6" width="5.39" height="1.05" fill="#451013"/>
<rect x="69.9" y="148.6" width="5.39" height="1.05" fill="#330c0e"/>
<rect x="69.9" y="149.6" width="5.39" height="1.05" fill="#26090a"/>
<rect x="69.9" y="150.6" width="5.39" height="1.05" fill="#28090b"/>
<rect x="69.9" y="151.6" width="5.39" height="1.05" fill="#24080a"/>
<rect x="69.9" y="152.6" width="5.39" height="1.05" fill="#360c0f"/>
<rect x="69.9" y="153.6" width="5.39" height="1.05" fill="#210709"/>
<rect x="69.9" y="154.6" width="5.39" height="1.05" fill="#290a0b"/>
<rect x="69.9" y="155.6" width="5.39" height="1.05" fill="#380d0f"/>
<rect x="69.9" y="156.6" width="5.39" height="1.05" fill="#1f0708"/>
<rect x="69.9" y="157.6" width="5.39" height="1.05" fill="#24080a"/>
<rect x="69.9" y="158.6" width="5.39" height="1.05" fill="#1b0607"/>
<rect x="69.9" y="159.6" width="5.39" height="1.05" fill="#210809"/>
<rect x="69.9" y="160.6" width="5.39" height="1.05" fill="#28090b"/>
<rect x="69.9" y="161.6" width="5.39" height="1.05" fill="#320c0e"/>
<rect x="69.9" y="162.6" width="5.39" height="1.05" fill="#2f0b0d"/>
<rect x="69.9" y="163.6" width="5.39" height="1.05" fill="#3b0e10"/>
<rect x="69.9" y="164.6" width="5.39" height="1.05" fill="#2a0a0b"/>
<rect x="69.9" y="165.6" width="5.39" height="1.05" fill="#24080a"/>
<rect x="69.9" y="166.6" width="5.39" height="1.05" fill="#2d0a0c"/>
<rect x="75.2" y="60.6" width="5.39" height="1.05" fill="#041209"/>
<rect x="75.2" y="61.6" width="5.39" height="1.05" fill="#061a0e"/>
<rect x="75.2" y="62.6" width="5.39" height="1.05" fill="#0a2815"/>
<rect x="75.2" y="63.6" width="5.39" height="1.05" fill="#0a2b16"/>
<rect x="75.2" y="64.6" width="5.39" height="1.05" fill="#071d0f"/>
<rect x="75.2" y="65.6" width="5.39" height="1.05" fill="#06180d"/>
<rect x="75.2" y="66.6" width="5.39" height="1.05" fill="#092513"/>
<rect x="75.2" y="67.6" width="5.39" height="1.05" fill="#071f10"/>
<rect x="75.2" y="68.6" width="5.39" height="1.05" fill="#082312"/>
<rect x="75.2" y="69.6" width="5.39" height="1.05" fill="#0a2b16"/>
<rect x="75.2" y="70.6" width="5.39" height="1.05" fill="#071c0e"/>
<rect x="75.2" y="71.6" width="5.39" height="1.05" fill="#0b2f19"/>
<rect x="75.2" y="72.6" width="5.39" height="1.05" fill="#05160c"/>
<rect x="75.2" y="73.6" width="5.39" height="1.05" fill="#061a0d"/>
<rect x="75.2" y="74.6" width="5.39" height="1.05" fill="#071d0f"/>
<rect x="75.2" y="75.6" width="5.39" height="1.05" fill="#071f10"/>
<rect x="75.2" y="76.6" width="5.39" height="1.05" fill="#0b2f19"/>
<rect x="75.2" y="77.6" width="5.39" height="1.05" fill="#0b2d18"/>
<rect x="75.2" y="78.6" width="5.39" height="1.05" fill="#082011"/>
<rect x="75.2" y="79.6" width="5.39" height="1.05" fill="#092413"/>
<rect x="75.2" y="80.6" width="5.39" height="1.05" fill="#0a2a16"/>
<rect x="75.2" y="81.6" width="5.39" height="1.05" fill="#092413"/>
<rect x="75.2" y="82.6" width="5.39" height="1.05" fill="#0a2915"/>
<rect x="75.2" y="83.6" width="5.39" height="1.05" fill="#06190d"/>
<rect x="75.2" y="84.6" width="5.39" height="1.05" fill="#061b0e"/>
<rect x="75.2" y="85.6" width="5.39" height="1.05" fill="#092614"/>
<rect x="75.2" y="86.6" width="5.39" height="1.05" fill="#0b2c17"/>
<rect x="75.2" y="87.6" width="5.39" height="1.05" fill="#0a2a16"/>
<rect x="75.2" y="88.6" width="5.39" height="1.05" fill="#061b0e"/>
<rect x="75.2" y="89.6" width="5.39" height="1.05" fill="#061b0e"/>
<rect x="75.2" y="90.6" width="5.39" height="1.05" fill="#061a0d"/>
<rect x="75.2" y="91.6" width="5.39" height="1.05" fill="#061a0e"/>
<rect x="75.2" y="92.6" width="5.39" height="1.05" fill="#0b2f19"/>
<rect x="75.2" y="93.6" width="5.39" height="1.05" fill="#061a0e"/>
<rect x="75.2" y="94.6" width="5.39" height="1.05" fill="#082112"/>
<rect x="75.2" y="95.6" width="5.39" height="1.05" fill="#0c331b"/>
<rect x="75.2" y="96.6" width="5.39" height="1.05" fill="#06180c"/>
<rect x="75.2" y="97.6" width="5.39" height="1.05" fill="#071c0f"/>
<rect x="75.2" y="98.6" width="5.39" height="1.05" fill="#071d0f"/>
<rect x="75.2" y="99.6" width="5.39" height="1.05" fill="#092413"/>
<rect x="75.2" y="100.6" width="5.39" height="1.05" fill="#0a2b17"/>
<rect x="75.2" y="101.6" width="5.39" height="1.05" fill="#082111"/>
<rect x="75.2" y="102.6" width="5.39" height="1.05" fill="#0b2c17"/>
<rect x="75.2" y="103.6" width="5.39" height="1.05" fill="#082212"/>
<rect x="75.2" y="104.6" width="5.39" height="1.05" fill="#082011"/>
<rect x="75.2" y="105.6" width="5.39" height="1.05" fill="#0a2916"/>
<rect x="75.2" y="106.6" width="5.39" height="1.05" fill="#092413"/>
<rect x="75.2" y="107.6" width="5.39" height="1.05" fill="#092413"/>
<rect x="75.2" y="108.6" width="5.39" height="1.05" fill="#05160b"/>
<rect x="75.2" y="109.6" width="5.39" height="1.05" fill="#071e10"/>
<rect x="75.2" y="110.6" width="5.39" height="1.05" fill="#082111"/>
<rect x="75.2" y="111.6" width="5.39" height="1.05" fill="#041008"/>
<rect x="75.2" y="112.6" width="5.39" height="1.05" fill="#061b0e"/>
<rect x="75.2" y="113.6" width="5.39" height="1.05" fill="#0a2a16"/>
<rect x="75.2" y="114.6" width="5.39" height="1.05" fill="#092413"/>
<rect x="75.2" y="115.6" width="5.39" height="1.05" fill="#082312"/>
<rect x="75.2" y="116.6" width="5.39" height="1.05" fill="#092614"/>
<rect x="75.2" y="117.6" width="5.39" height="1.05" fill="#06180d"/>
<rect x="75.2" y="118.6" width="5.39" height="1.05" fill="#0c331b"/>
<rect x="75.2" y="119.6" width="5.39" height="1.05" fill="#06180c"/>
<rect x="75.2" y="120.6" width="5.39" height="1.05" fill="#071e0f"/>
<rect x="75.2" y="121.6" width="5.39" height="1.05" fill="#05170c"/>
<rect x="75.2" y="122.6" width="5.39" height="1.05" fill="#082212"/>
<rect x="75.2" y="123.6" width="5.39" height="1.05" fill="#071d0f"/>
<rect x="75.2" y="124.6" width="5.39" height="1.05" fill="#04130a"/>
<rect x="75.2" y="125.6" width="5.39" height="1.05" fill="#0a2815"/>
<rect x="75.2" y="126.6" width="5.39" height="1.05" fill="#06190d"/>
<rect x="75.2" y="127.6" width="5.39" height="1.05" fill="#092513"/>
<rect x="75.2" y="128.6" width="5.39" height="1.05" fill="#05140a"/>
<rect x="75.2" y="129.6" width="5.39" height="1.05" fill="#0a2a16"/>
<rect x="75.2" y="130.6" width="5.39" height="1.05" fill="#082011"/>
<rect x="75.2" y="131.6" width="5.39" height="1.05" fill="#04130a"/>
<rect x="75.2" y="132.6" width="5.39" height="1.05" fill="#071f10"/>
<rect x="75.2" y="133.6" width="5.39" height="1.05" fill="#071e10"/>
<rect x="75.2" y="134.6" width="5.39" height="1.05" fill="#061a0d"/>
<rect x="75.2" y="135.6" width="5.39" height="1.05" fill="#071d0f"/>
<rect x="75.2" y="136.6" width="5.39" height="1.05" fill="#0a2916"/>
<rect x="75.2" y="137.6" width="5.39" height="1.05" fill="#071c0f"/>
<rect x="75.2" y="138.6" width="5.39" height="1.05" fill="#071d0f"/>
<rect x="75.2" y="139.6" width="5.39" height="1.05" fill="#0c331b"/>
<rect x="75.2" y="140.6" width="5.39" height="1.05" fill="#071e0f"/>
<rect x="75.2" y="141.6" width="5.39" height="1.05" fill="#082312"/>
<rect x="75.2" y="142.6" width="5.39" height="1.05" fill="#071f10"/>
<rect x="75.2" y="143.6" width="5.39" height="1.05" fill="#071f10"/>
<rect x="75.2" y="144.6" width="5.39" height="1.05" fill="#082312"/>
<rect x="75.2" y="145.6" width="5.39" height="1.05" fill="#092514"/>
<rect x="75.2" y="146.6" width="5.39" height="1.05" fill="#082212"/>
<rect x="75.2" y="147.6" width="5.39" height="1.05" fill="#030c06"/>
<rect x="75.2" y="148.6" width="5.39" height="1.05" fill="#06180d"/>
<rect x="75.2" y="149.6" width="5.39" height="1.05" fill="#071c0f"/>
<rect x="75.2" y="150.6" width="5.39" height="1.05" fill="#071e10"/>
<rect x="75.2" y="151.6" width="5.39" height="1.05" fill="#05170c"/>
<rect x="75.2" y="152.6" width="5.39" height="1.05" fill="#06190d"/>
<rect x="75.2" y="153.6" width="5.39" height="1.05" fill="#0c331b"/>
<rect x="75.2" y="154.6" width="5.39" height="1.05" fill="#071c0e"/>
<rect x="75.2" y="155.6" width="5.39" height="1.05" fill="#071e10"/>
<rect x="75.2" y="156.6" width="5.39" height="1.05" fill="#04130a"/>
<rect x="75.2" y="157.6" width="5.39" height="1.05" fill="#041008"/>
<rect x="75.2" y="158.6" width="5.39" height="1.05" fill="#041008"/>
<rect x="75.2" y="159.6" width="5.39" height="1.05" fill="#092614"/>
<rect x="75.2" y="160.6" width="5.39" height="1.05" fill="#082212"/>
<rect x="75.2" y="161.6" width="5.39" height="1.05" fill="#041109"/>
<rect x="75.2" y="162.6" width="5.39" height="1.05" fill="#061b0e"/>
<rect x="75.2" y="163.6" width="5.39" height="1.05" fill="#0a2915"/>
<rect x="75.2" y="164.6" width="5.39" height="1.05" fill="#061a0d"/>
<rect x="75.2" y="165.6" width="5.39" height="1.05" fill="#05140b"/>
<rect x="75.2" y="166.6" width="5.39" height="1.05" fill="#0a2915"/>
<rect x="80.6" y="60.6" width="5.39" height="1.05" fill="#0f3a1f"/>
<rect x="80.6" y="61.6" width="5.39" height="1.05" fill="#0e371e"/>
<rect x="80.6" y="62.6" width="5.39" height="1.05" fill="#103f22"/>
<rect x="80.6" y="63.6" width="5.39" height="1.05" fill="#0f391f"/>
<rect x="80.6" y="64.6" width="5.39" height="1.05" fill="#0b2c18"/>
<rect x="80.6" y="65.6" width="5.39" height="1.05" fill="#0c311a"/>
<rect x="80.6" y="66.6" width="5.39" height="1.05" fill="#0f391f"/>
<rect x="80.6" y="67.6" width="5.39" height="1.05" fill="#0b2a16"/>
<rect x="80.6" y="68.6" width="5.39" height="1.05" fill="#0c2f1a"/>
<rect x="80.6" y="69.6" width="5.39" height="1.05" fill="#0f3a20"/>
<rect x="80.6" y="70.6" width="5.39" height="1.05" fill="#0a2715"/>
<rect x="80.6" y="71.6" width="5.39" height="1.05" fill="#0c311a"/>
<rect x="80.6" y="72.6" width="5.39" height="1.05" fill="#071b0e"/>
<rect x="80.6" y="73.6" width="5.39" height="1.05" fill="#092413"/>
<rect x="80.6" y="74.6" width="5.39" height="1.05" fill="#092212"/>
<rect x="80.6" y="75.6" width="5.39" height="1.05" fill="#114224"/>
<rect x="80.6" y="76.6" width="5.39" height="1.05" fill="#0e391f"/>
<rect x="80.6" y="77.6" width="5.39" height="1.05" fill="#092413"/>
<rect x="80.6" y="78.6" width="5.39" height="1.05" fill="#0f3c20"/>
<rect x="80.6" y="79.6" width="5.39" height="1.05" fill="#0e371e"/>
<rect x="80.6" y="80.6" width="5.39" height="1.05" fill="#081e10"/>
<rect x="80.6" y="81.6" width="5.39" height="1.05" fill="#0f3d21"/>
<rect x="80.6" y="82.6" width="5.39" height="1.05" fill="#0e371e"/>
<rect x="80.6" y="83.6" width="5.39" height="1.05" fill="#124626"/>
<rect x="80.6" y="84.6" width="5.39" height="1.05" fill="#092212"/>
<rect x="80.6" y="85.6" width="5.39" height="1.05" fill="#0e381e"/>
<rect x="80.6" y="86.6" width="5.39" height="1.05" fill="#0e361d"/>
<rect x="80.6" y="87.6" width="5.39" height="1.05" fill="#103e21"/>
<rect x="80.6" y="88.6" width="5.39" height="1.05" fill="#0d311b"/>
<rect x="80.6" y="89.6" width="5.39" height="1.05" fill="#0d341c"/>
<rect x="80.6" y="90.6" width="5.39" height="1.05" fill="#071e10"/>
<rect x="80.6" y="91.6" width="5.39" height="1.05" fill="#092212"/>
<rect x="80.6" y="92.6" width="5.39" height="1.05" fill="#092514"/>
<rect x="80.6" y="93.6" width="5.39" height="1.05" fill="#0a2615"/>
<rect x="80.6" y="94.6" width="5.39" height="1.05" fill="#0b2a17"/>
<rect x="80.6" y="95.6" width="5.39" height="1.05" fill="#103e22"/>
<rect x="80.6" y="96.6" width="5.39" height="1.05" fill="#071d10"/>
<rect x="80.6" y="97.6" width="5.39" height="1.05" fill="#0a2614"/>
<rect x="80.6" y="98.6" width="5.39" height="1.05" fill="#0a2916"/>
<rect x="80.6" y="99.6" width="5.39" height="1.05" fill="#0b2c18"/>
<rect x="80.6" y="100.6" width="5.39" height="1.05" fill="#0e381e"/>
<rect x="80.6" y="101.6" width="5.39" height="1.05" fill="#0c311a"/>
<rect x="80.6" y="102.6" width="5.39" height="1.05" fill="#0d331c"/>
<rect x="80.6" y="103.6" width="5.39" height="1.05" fill="#0b2c18"/>
<rect x="80.6" y="104.6" width="5.39" height="1.05" fill="#0e371e"/>
<rect x="80.6" y="105.6" width="5.39" height="1.05" fill="#0e371e"/>
<rect x="80.6" y="106.6" width="5.39" height="1.05" fill="#0e361d"/>
<rect x="80.6" y="107.6" width="5.39" height="1.05" fill="#0d331c"/>
<rect x="80.6" y="108.6" width="5.39" height="1.05" fill="#0b2a17"/>
<rect x="80.6" y="109.6" width="5.39" height="1.05" fill="#0d331c"/>
<rect x="80.6" y="110.6" width="5.39" height="1.05" fill="#092313"/>
<rect x="80.6" y="111.6" width="5.39" height="1.05" fill="#082011"/>
<rect x="80.6" y="112.6" width="5.39" height="1.05" fill="#0b2c18"/>
<rect x="80.6" y="113.6" width="5.39" height="1.05" fill="#092413"/>
<rect x="80.6" y="114.6" width="5.39" height="1.05" fill="#0b2b17"/>
<rect x="80.6" y="115.6" width="5.39" height="1.05" fill="#092514"/>
<rect x="80.6" y="116.6" width="5.39" height="1.05" fill="#114223"/>
<rect x="80.6" y="117.6" width="5.39" height="1.05" fill="#0b2c18"/>
<rect x="80.6" y="118.6" width="5.39" height="1.05" fill="#0e361d"/>
<rect x="80.6" y="119.6" width="5.39" height="1.05" fill="#092413"/>
<rect x="80.6" y="120.6" width="5.39" height="1.05" fill="#0a2816"/>
<rect x="80.6" y="121.6" width="5.39" height="1.05" fill="#0b2d18"/>
<rect x="80.6" y="122.6" width="5.39" height="1.05" fill="#0b2c18"/>
<rect x="80.6" y="123.6" width="5.39" height="1.05" fill="#0f3c21"/>
<rect x="80.6" y="124.6" width="5.39" height="1.05" fill="#071b0e"/>
<rect x="80.6" y="125.6" width="5.39" height="1.05" fill="#0e371e"/>
<rect x="80.6" y="126.6" width="5.39" height="1.05" fill="#041008"/>
<rect x="80.6" y="127.6" width="5.39" height="1.05" fill="#103e21"/>
<rect x="80.6" y="128.6" width="5.39" height="1.05" fill="#092313"/>
<rect x="80.6" y="129.6" width="5.39" height="1.05" fill="#071e10"/>
<rect x="80.6" y="130.6" width="5.39" height="1.05" fill="#0e371e"/>
<rect x="80.6" y="131.6" width="5.39" height="1.05" fill="#0c311a"/>
<rect x="80.6" y="132.6" width="5.39" height="1.05" fill="#0e391f"/>
<rect x="80.6" y="133.6" width="5.39" height="1.05" fill="#0a2815"/>
<rect x="80.6" y="134.6" width="5.39" height="1.05" fill="#103d21"/>
<rect x="80.6" y="135.6" width="5.39" height="1.05" fill="#0b2b17"/>
<rect x="80.6" y="136.6" width="5.39" height="1.05" fill="#134928"/>
<rect x="80.6" y="137.6" width="5.39" height="1.05" fill="#0d331c"/>
<rect x="80.6" y="138.6" width="5.39" height="1.05" fill="#0d311b"/>
<rect x="80.6" y="139.6" width="5.39" height="1.05" fill="#0f3c20"/>
<rect x="80.6" y="140.6" width="5.39" height="1.05" fill="#071d10"/>
<rect x="80.6" y="141.6" width="5.39" height="1.05" fill="#103f22"/>
<rect x="80.6" y="142.6" width="5.39" height="1.05" fill="#0d341c"/>
<rect x="80.6" y="143.6" width="5.39" height="1.05" fill="#103d21"/>
<rect x="80.6" y="144.6" width="5.39" height="1.05" fill="#0f3b20"/>
<rect x="80.6" y="145.6" width="5.39" height="1.05" fill="#0a2a16"/>
<rect x="80.6" y="146.6" width="5.39" height="1.05" fill="#082112"/>
<rect x="80.6" y="147.6" width="5.39" height="1.05" fill="#081e10"/>
<rect x="80.6" y="148.6" width="5.39" height="1.05" fill="#081e10"/>
<rect x="80.6" y="149.6" width="5.39" height="1.05" fill="#0a2a16"/>
<rect x="80.6" y="150.6" width="5.39" height="1.05" fill="#0b2b17"/>
<rect x="80.6" y="151.6" width="5.39" height="1.05" fill="#0a2916"/>
<rect x="80.6" y="152.6" width="5.39" height="1.05" fill="#082112"/>
<rect x="80.6" y="153.6" width="5.39" height="1.05" fill="#0e381e"/>
<rect x="80.6" y="154.6" width="5.39" height="1.05" fill="#0c311a"/>
<rect x="80.6" y="155.6" width="5.39" height="1.05" fill="#0f3a1f"/>
<rect x="80.6" y="156.6" width="5.39" height="1.05" fill="#0b2d18"/>
<rect x="80.6" y="157.6" width="5.39" height="1.05" fill="#0e361d"/>
<rect x="80.6" y="158.6" width="5.39" height="1.05" fill="#082011"/>
<rect x="80.6" y="159.6" width="5.39" height="1.05" fill="#092313"/>
<rect x="80.6" y="160.6" width="5.39" height="1.05" fill="#134927"/>
<rect x="80.6" y="161.6" width="5.39" height="1.05" fill="#0a2816"/>
<rect x="80.6" y="162.6" width="5.39" height="1.05" fill="#124525"/>
<rect x="80.6" y="163.6" width="5.39" height="1.05" fill="#092313"/>
<rect x="80.6" y="164.6" width="5.39" height="1.05" fill="#0a2916"/>
<rect x="80.6" y="165.6" width="5.39" height="1.05" fill="#082011"/>
<rect x="80.6" y="166.6" width="5.39" height="1.05" fill="#0a2715"/>
<rect x="85.9" y="60.6" width="5.39" height="1.05" fill="#103d20"/>
<rect x="85.9" y="61.6" width="5.39" height="1.05" fill="#114323"/>
<rect x="85.9" y="62.6" width="5.39" height="1.05" fill="#185e31"/>
<rect x="85.9" y="63.6" width="5.39" height="1.05" fill="#1c6c39"/>
<rect x="85.9" y="64.6" width="5.39" height="1.05" fill="#0d341b"/>
<rect x="85.9" y="65.6" width="5.39" height="1.05" fill="#0a2614"/>
<rect x="85.9" y="66.6" width="5.39" height="1.05" fill="#134926"/>
<rect x="85.9" y="67.6" width="5.39" height="1.05" fill="#144e29"/>
<rect x="85.9" y="68.6" width="5.39" height="1.05" fill="#114323"/>
<rect x="85.9" y="69.6" width="5.39" height="1.05" fill="#103c20"/>
<rect x="85.9" y="70.6" width="5.39" height="1.05" fill="#114223"/>
<rect x="85.9" y="71.6" width="5.39" height="1.05" fill="#185d31"/>
<rect x="85.9" y="72.6" width="5.39" height="1.05" fill="#103d20"/>
<rect x="85.9" y="73.6" width="5.39" height="1.05" fill="#0e361c"/>
<rect x="85.9" y="74.6" width="5.39" height="1.05" fill="#144e29"/>
<rect x="85.9" y="75.6" width="5.39" height="1.05" fill="#185c30"/>
<rect x="85.9" y="76.6" width="5.39" height="1.05" fill="#124424"/>
<rect x="85.9" y="77.6" width="5.39" height="1.05" fill="#0b2d17"/>
<rect x="85.9" y="78.6" width="5.39" height="1.05" fill="#134a27"/>
<rect x="85.9" y="79.6" width="5.39" height="1.05" fill="#144c28"/>
<rect x="85.9" y="80.6" width="5.39" height="1.05" fill="#134a27"/>
<rect x="85.9" y="81.6" width="5.39" height="1.05" fill="#144d29"/>
<rect x="85.9" y="82.6" width="5.39" height="1.05" fill="#103e21"/>
<rect x="85.9" y="83.6" width="5.39" height="1.05" fill="#134826"/>
<rect x="85.9" y="84.6" width="5.39" height="1.05" fill="#103f21"/>
<rect x="85.9" y="85.6" width="5.39" height="1.05" fill="#16542c"/>
<rect x="85.9" y="86.6" width="5.39" height="1.05" fill="#196133"/>
<rect x="85.9" y="87.6" width="5.39" height="1.05" fill="#16542c"/>
<rect x="85.9" y="88.6" width="5.39" height="1.05" fill="#1a6435"/>
<rect x="85.9" y="89.6" width="5.39" height="1.05" fill="#15532b"/>
<rect x="85.9" y="90.6" width="5.39" height="1.05" fill="#134a27"/>
<rect x="85.9" y="91.6" width="5.39" height="1.05" fill="#144b28"/>
<rect x="85.9" y="92.6" width="5.39" height="1.05" fill="#1b6837"/>
<rect x="85.9" y="93.6" width="5.39" height="1.05" fill="#103e20"/>
<rect x="85.9" y="94.6" width="5.39" height="1.05" fill="#124625"/>
<rect x="85.9" y="95.6" width="5.39" height="1.05" fill="#124424"/>
<rect x="85.9" y="96.6" width="5.39" height="1.05" fill="#0c2d18"/>
<rect x="85.9" y="97.6" width="5.39" height="1.05" fill="#124725"/>
<rect x="85.9" y="98.6" width="5.39" height="1.05" fill="#144d29"/>
<rect x="85.9" y="99.6" width="5.39" height="1.05" fill="#144e29"/>
<rect x="85.9" y="100.6" width="5.39" height="1.05" fill="#114323"/>
<rect x="85.9" y="101.6" width="5.39" height="1.05" fill="#114122"/>
<rect x="85.9" y="102.6" width="5.39" height="1.05" fill="#0e351c"/>
<rect x="85.9" y="103.6" width="5.39" height="1.05" fill="#16552d"/>
<rect x="85.9" y="104.6" width="5.39" height="1.05" fill="#0f391e"/>
<rect x="85.9" y="105.6" width="5.39" height="1.05" fill="#134826"/>
<rect x="85.9" y="106.6" width="5.39" height="1.05" fill="#103c20"/>
<rect x="85.9" y="107.6" width="5.39" height="1.05" fill="#0d341b"/>
<rect x="85.9" y="108.6" width="5.39" height="1.05" fill="#144e29"/>
<rect x="85.9" y="109.6" width="5.39" height="1.05" fill="#154f2a"/>
<rect x="85.9" y="110.6" width="5.39" height="1.05" fill="#0c3119"/>
<rect x="85.9" y="111.6" width="5.39" height="1.05" fill="#0c2f19"/>
<rect x="85.9" y="112.6" width="5.39" height="1.05" fill="#134a27"/>
<rect x="85.9" y="113.6" width="5.39" height="1.05" fill="#124524"/>
<rect x="85.9" y="114.6" width="5.39" height="1.05" fill="#0a2714"/>
<rect x="85.9" y="115.6" width="5.39" height="1.05" fill="#0f391e"/>
<rect x="85.9" y="116.6" width="5.39" height="1.05" fill="#114323"/>
<rect x="85.9" y="117.6" width="5.39" height="1.05" fill="#15512b"/>
<rect x="85.9" y="118.6" width="5.39" height="1.05" fill="#144d28"/>
<rect x="85.9" y="119.6" width="5.39" height="1.05" fill="#071e0f"/>
<rect x="85.9" y="120.6" width="5.39" height="1.05" fill="#114323"/>
<rect x="85.9" y="121.6" width="5.39" height="1.05" fill="#0b2c17"/>
<rect x="85.9" y="122.6" width="5.39" height="1.05" fill="#17572e"/>
<rect x="85.9" y="123.6" width="5.39" height="1.05" fill="#0f3c1f"/>
<rect x="85.9" y="124.6" width="5.39" height="1.05" fill="#092312"/>
<rect x="85.9" y="125.6" width="5.39" height="1.05" fill="#114122"/>
<rect x="85.9" y="126.6" width="5.39" height="1.05" fill="#0c2f19"/>
<rect x="85.9" y="127.6" width="5.39" height="1.05" fill="#185e31"/>
<rect x="85.9" y="128.6" width="5.39" height="1.05" fill="#103d20"/>
<rect x="85.9" y="129.6" width="5.39" height="1.05" fill="#144e29"/>
<rect x="85.9" y="130.6" width="5.39" height="1.05" fill="#16552d"/>
<rect x="85.9" y="131.6" width="5.39" height="1.05" fill="#0c2d18"/>
<rect x="85.9" y="132.6" width="5.39" height="1.05" fill="#103e21"/>
<rect x="85.9" y="133.6" width="5.39" height="1.05" fill="#114323"/>
<rect x="85.9" y="134.6" width="5.39" height="1.05" fill="#0e371d"/>
<rect x="85.9" y="135.6" width="5.39" height="1.05" fill="#134927"/>
<rect x="85.9" y="136.6" width="5.39" height="1.05" fill="#124725"/>
<rect x="85.9" y="137.6" width="5.39" height="1.05" fill="#114323"/>
<rect x="85.9" y="138.6" width="5.39" height="1.05" fill="#0d331b"/>
<rect x="85.9" y="139.6" width="5.39" height="1.05" fill="#0e381d"/>
<rect x="85.9" y="140.6" width="5.39" height="1.05" fill="#103f21"/>
<rect x="85.9" y="141.6" width="5.39" height="1.05" fill="#196133"/>
<rect x="85.9" y="142.6" width="5.39" height="1.05" fill="#114323"/>
<rect x="85.9" y="143.6" width="5.39" height="1.05" fill="#0e371d"/>
<rect x="85.9" y="144.6" width="5.39" height="1.05" fill="#092212"/>
<rect x="85.9" y="145.6" width="5.39" height="1.05" fill="#134826"/>
<rect x="85.9" y="146.6" width="5.39" height="1.05" fill="#185c31"/>
<rect x="85.9" y="147.6" width="5.39" height="1.05" fill="#0e371d"/>
<rect x="85.9" y="148.6" width="5.39" height="1.05" fill="#103e21"/>
<rect x="85.9" y="149.6" width="5.39" height="1.05" fill="#196032"/>
<rect x="85.9" y="150.6" width="5.39" height="1.05" fill="#124725"/>
<rect x="85.9" y="151.6" width="5.39" height="1.05" fill="#0d341b"/>
<rect x="85.9" y="152.6" width="5.39" height="1.05" fill="#104021"/>
<rect x="85.9" y="153.6" width="5.39" height="1.05" fill="#185d31"/>
<rect x="85.9" y="154.6" width="5.39" height="1.05" fill="#0d341b"/>
<rect x="85.9" y="155.6" width="5.39" height="1.05" fill="#144c28"/>
<rect x="85.9" y="156.6" width="5.39" height="1.05" fill="#0b2916"/>
<rect x="85.9" y="157.6" width="5.39" height="1.05" fill="#114223"/>
<rect x="85.9" y="158.6" width="5.39" height="1.05" fill="#103e21"/>
<rect x="85.9" y="159.6" width="5.39" height="1.05" fill="#0f3b1f"/>
<rect x="85.9" y="160.6" width="5.39" height="1.05" fill="#0d311a"/>
<rect x="85.9" y="161.6" width="5.39" height="1.05" fill="#134a27"/>
<rect x="85.9" y="162.6" width="5.39" height="1.05" fill="#175a2f"/>
<rect x="85.9" y="163.6" width="5.39" height="1.05" fill="#1a6535"/>
<rect x="85.9" y="164.6" width="5.39" height="1.05" fill="#0c3019"/>
<rect x="85.9" y="165.6" width="5.39" height="1.05" fill="#0f3a1e"/>
<rect x="85.9" y="166.6" width="5.39" height="1.05" fill="#1c6c39"/>
<rect x="91.3" y="60.6" width="5.39" height="1.05" fill="#1e763d"/>
<rect x="91.3" y="61.6" width="5.39" height="1.05" fill="#124524"/>
<rect x="91.3" y="62.6" width="5.39" height="1.05" fill="#1a6534"/>
<rect x="91.3" y="63.6" width="5.39" height="1.05" fill="#1a6334"/>
<rect x="91.3" y="64.6" width="5.39" height="1.05" fill="#185e31"/>
<rect x="91.3" y="65.6" width="5.39" height="1.05" fill="#15502a"/>
<rect x="91.3" y="66.6" width="5.39" height="1.05" fill="#15532b"/>
<rect x="91.3" y="67.6" width="5.39" height="1.05" fill="#0f3b1f"/>
<rect x="91.3" y="68.6" width="5.39" height="1.05" fill="#185c30"/>
<rect x="91.3" y="69.6" width="5.39" height="1.05" fill="#185c30"/>
<rect x="91.3" y="70.6" width="5.39" height="1.05" fill="#144f29"/>
<rect x="91.3" y="71.6" width="5.39" height="1.05" fill="#1b6937"/>
<rect x="91.3" y="72.6" width="5.39" height="1.05" fill="#175a2f"/>
<rect x="91.3" y="73.6" width="5.39" height="1.05" fill="#175a2f"/>
<rect x="91.3" y="74.6" width="5.39" height="1.05" fill="#15532b"/>
<rect x="91.3" y="75.6" width="5.39" height="1.05" fill="#1b6937"/>
<rect x="91.3" y="76.6" width="5.39" height="1.05" fill="#218043"/>
<rect x="91.3" y="77.6" width="5.39" height="1.05" fill="#144e29"/>
<rect x="91.3" y="78.6" width="5.39" height="1.05" fill="#185d30"/>
<rect x="91.3" y="79.6" width="5.39" height="1.05" fill="#1b6a37"/>
<rect x="91.3" y="80.6" width="5.39" height="1.05" fill="#1d723b"/>
<rect x="91.3" y="81.6" width="5.39" height="1.05" fill="#175a2f"/>
<rect x="91.3" y="82.6" width="5.39" height="1.05" fill="#104021"/>
<rect x="91.3" y="83.6" width="5.39" height="1.05" fill="#114423"/>
<rect x="91.3" y="84.6" width="5.39" height="1.05" fill="#17582e"/>
<rect x="91.3" y="85.6" width="5.39" height="1.05" fill="#1a6434"/>
<rect x="91.3" y="86.6" width="5.39" height="1.05" fill="#238646"/>
<rect x="91.3" y="87.6" width="5.39" height="1.05" fill="#175a2f"/>
<rect x="91.3" y="88.6" width="5.39" height="1.05" fill="#1c6c38"/>
<rect x="91.3" y="89.6" width="5.39" height="1.05" fill="#175a2f"/>
<rect x="91.3" y="90.6" width="5.39" height="1.05" fill="#0d341b"/>
<rect x="91.3" y="91.6" width="5.39" height="1.05" fill="#124624"/>
<rect x="91.3" y="92.6" width="5.39" height="1.05" fill="#196233"/>
<rect x="91.3" y="93.6" width="5.39" height="1.05" fill="#124725"/>
<rect x="91.3" y="94.6" width="5.39" height="1.05" fill="#16562d"/>
<rect x="91.3" y="95.6" width="5.39" height="1.05" fill="#1e753d"/>
<rect x="91.3" y="96.6" width="5.39" height="1.05" fill="#0b2b16"/>
<rect x="91.3" y="97.6" width="5.39" height="1.05" fill="#134c27"/>
<rect x="91.3" y="98.6" width="5.39" height="1.05" fill="#134b27"/>
<rect x="91.3" y="99.6" width="5.39" height="1.05" fill="#144f29"/>
<rect x="91.3" y="100.6" width="5.39" height="1.05" fill="#196032"/>
<rect x="91.3" y="101.6" width="5.39" height="1.05" fill="#124524"/>
<rect x="91.3" y="102.6" width="5.39" height="1.05" fill="#196133"/>
<rect x="91.3" y="103.6" width="5.39" height="1.05" fill="#1e733c"/>
<rect x="91.3" y="104.6" width="5.39" height="1.05" fill="#144d28"/>
<rect x="91.3" y="105.6" width="5.39" height="1.05" fill="#1d6f3a"/>
<rect x="91.3" y="106.6" width="5.39" height="1.05" fill="#1a6535"/>
<rect x="91.3" y="107.6" width="5.39" height="1.05" fill="#124725"/>
<rect x="91.3" y="108.6" width="5.39" height="1.05" fill="#1a6434"/>
<rect x="91.3" y="109.6" width="5.39" height="1.05" fill="#0f3c1f"/>
<rect x="91.3" y="110.6" width="5.39" height="1.05" fill="#185d30"/>
<rect x="91.3" y="111.6" width="5.39" height="1.05" fill="#0b2c17"/>
<rect x="91.3" y="112.6" width="5.39" height="1.05" fill="#114122"/>
<rect x="91.3" y="113.6" width="5.39" height="1.05" fill="#228244"/>
<rect x="91.3" y="114.6" width="5.39" height="1.05" fill="#0f391e"/>
<rect x="91.3" y="115.6" width="5.39" height="1.05" fill="#1d703a"/>
<rect x="91.3" y="116.6" width="5.39" height="1.05" fill="#1c6c38"/>
<rect x="91.3" y="117.6" width="5.39" height="1.05" fill="#207a40"/>
<rect x="91.3" y="118.6" width="5.39" height="1.05" fill="#15522b"/>
<rect x="91.3" y="119.6" width="5.39" height="1.05" fill="#144d28"/>
<rect x="91.3" y="120.6" width="5.39" height="1.05" fill="#1a6635"/>
<rect x="91.3" y="121.6" width="5.39" height="1.05" fill="#144d28"/>
<rect x="91.3" y="122.6" width="5.39" height="1.05" fill="#17592e"/>
<rect x="91.3" y="123.6" width="5.39" height="1.05" fill="#238646"/>
<rect x="91.3" y="124.6" width="5.39" height="1.05" fill="#0d331b"/>
<rect x="91.3" y="125.6" width="5.39" height="1.05" fill="#17592e"/>
<rect x="91.3" y="126.6" width="5.39" height="1.05" fill="#0f391e"/>
<rect x="91.3" y="127.6" width="5.39" height="1.05" fill="#1a6434"/>
<rect x="91.3" y="128.6" width="5.39" height="1.05" fill="#124524"/>
<rect x="91.3" y="129.6" width="5.39" height="1.05" fill="#17592e"/>
<rect x="91.3" y="130.6" width="5.39" height="1.05" fill="#228545"/>
<rect x="91.3" y="131.6" width="5.39" height="1.05" fill="#144c28"/>
<rect x="91.3" y="132.6" width="5.39" height="1.05" fill="#185e31"/>
<rect x="91.3" y="133.6" width="5.39" height="1.05" fill="#1f793f"/>
<rect x="91.3" y="134.6" width="5.39" height="1.05" fill="#114423"/>
<rect x="91.3" y="135.6" width="5.39" height="1.05" fill="#1a6434"/>
<rect x="91.3" y="136.6" width="5.39" height="1.05" fill="#238646"/>
<rect x="91.3" y="137.6" width="5.39" height="1.05" fill="#124625"/>
<rect x="91.3" y="138.6" width="5.39" height="1.05" fill="#103e20"/>
<rect x="91.3" y="139.6" width="5.39" height="1.05" fill="#185d31"/>
<rect x="91.3" y="140.6" width="5.39" height="1.05" fill="#0b2b16"/>
<rect x="91.3" y="141.6" width="5.39" height="1.05" fill="#1b6836"/>
<rect x="91.3" y="142.6" width="5.39" height="1.05" fill="#0d321a"/>
<rect x="91.3" y="143.6" width="5.39" height="1.05" fill="#185e31"/>
<rect x="91.3" y="144.6" width="5.39" height="1.05" fill="#1f773e"/>
<rect x="91.3" y="145.6" width="5.39" height="1.05" fill="#0f3a1e"/>
<rect x="91.3" y="146.6" width="5.39" height="1.05" fill="#16562d"/>
<rect x="91.3" y="147.6" width="5.39" height="1.05" fill="#0a2714"/>
<rect x="91.3" y="148.6" width="5.39" height="1.05" fill="#134b27"/>
<rect x="91.3" y="149.6" width="5.39" height="1.05" fill="#144e28"/>
<rect x="91.3" y="150.6" width="5.39" height="1.05" fill="#114423"/>
<rect x="91.3" y="151.6" width="5.39" height="1.05" fill="#124725"/>
<rect x="91.3" y="152.6" width="5.39" height="1.05" fill="#134826"/>
<rect x="91.3" y="153.6" width="5.39" height="1.05" fill="#185d30"/>
<rect x="91.3" y="154.6" width="5.39" height="1.05" fill="#185d31"/>
<rect x="91.3" y="155.6" width="5.39" height="1.05" fill="#175b2f"/>
<rect x="91.3" y="156.6" width="5.39" height="1.05" fill="#134926"/>
<rect x="91.3" y="157.6" width="5.39" height="1.05" fill="#104021"/>
<rect x="91.3" y="158.6" width="5.39" height="1.05" fill="#124624"/>
<rect x="91.3" y="159.6" width="5.39" height="1.05" fill="#0f391e"/>
<rect x="91.3" y="160.6" width="5.39" height="1.05" fill="#185d31"/>
<rect x="91.3" y="161.6" width="5.39" height="1.05" fill="#1a6434"/>
<rect x="91.3" y="162.6" width="5.39" height="1.05" fill="#1b6937"/>
<rect x="91.3" y="163.6" width="5.39" height="1.05" fill="#124825"/>
<rect x="91.3" y="164.6" width="5.39" height="1.05" fill="#16552d"/>
<rect x="91.3" y="165.6" width="5.39" height="1.05" fill="#0c2f18"/>
<rect x="91.3" y="166.6" width="5.39" height="1.05" fill="#114423"/>
<rect x="96.6" y="60.6" width="5.39" height="1.05" fill="#16532a"/>
<rect x="96.6" y="61.6" width="5.39" height="1.05" fill="#196131"/>
<rect x="96.6" y="62.6" width="5.39" height="1.05" fill="#1f783d"/>
<rect x="96.6" y="63.6" width="5.39" height="1.05" fill="#1f753b"/>
<rect x="96.6" y="64.6" width="5.39" height="1.05" fill="#134a26"/>
<rect x="96.6" y="65.6" width="5.39" height="1.05" fill="#103c1f"/>
<rect x="96.6" y="66.6" width="5.39" height="1.05" fill="#20793e"/>
<rect x="96.6" y="67.6" width="5.39" height="1.05" fill="#1a6433"/>
<rect x="96.6" y="68.6" width="5.39" height="1.05" fill="#144b26"/>
<rect x="96.6" y="69.6" width="5.39" height="1.05" fill="#124422"/>
<rect x="96.6" y="70.6" width="5.39" height="1.05" fill="#0f3c1e"/>
<rect x="96.6" y="71.6" width="5.39" height="1.05" fill="#299c50"/>
<rect x="96.6" y="72.6" width="5.39" height="1.05" fill="#103d1f"/>
<rect x="96.6" y="73.6" width="5.39" height="1.05" fill="#16552b"/>
<rect x="96.6" y="74.6" width="5.39" height="1.05" fill="#1d6f39"/>
<rect x="96.6" y="75.6" width="5.39" height="1.05" fill="#1d6e38"/>
<rect x="96.6" y="76.6" width="5.39" height="1.05" fill="#1b6835"/>
<rect x="96.6" y="77.6" width="5.39" height="1.05" fill="#134a26"/>
<rect x="96.6" y="78.6" width="5.39" height="1.05" fill="#144f28"/>
<rect x="96.6" y="79.6" width="5.39" height="1.05" fill="#238644"/>
<rect x="96.6" y="80.6" width="5.39" height="1.05" fill="#175a2e"/>
<rect x="96.6" y="81.6" width="5.39" height="1.05" fill="#1d6f38"/>
<rect x="96.6" y="82.6" width="5.39" height="1.05" fill="#114322"/>
<rect x="96.6" y="83.6" width="5.39" height="1.05" fill="#1a6433"/>
<rect x="96.6" y="84.6" width="5.39" height="1.05" fill="#1b6734"/>
<rect x="96.6" y="85.6" width="5.39" height="1.05" fill="#228343"/>
<rect x="96.6" y="86.6" width="5.39" height="1.05" fill="#15522a"/>
<rect x="96.6" y="87.6" width="5.39" height="1.05" fill="#258e48"/>
<rect x="96.6" y="88.6" width="5.39" height="1.05" fill="#1d6e38"/>
<rect x="96.6" y="89.6" width="5.39" height="1.05" fill="#144e27"/>
<rect x="96.6" y="90.6" width="5.39" height="1.05" fill="#1a6533"/>
<rect x="96.6" y="91.6" width="5.39" height="1.05" fill="#155028"/>
<rect x="96.6" y="92.6" width="5.39" height="1.05" fill="#185d2f"/>
<rect x="96.6" y="93.6" width="5.39" height="1.05" fill="#185c2f"/>
<rect x="96.6" y="94.6" width="5.39" height="1.05" fill="#0c2f18"/>
<rect x="96.6" y="95.6" width="5.39" height="1.05" fill="#207a3e"/>
<rect x="96.6" y="96.6" width="5.39" height="1.05" fill="#0c3018"/>
<rect x="96.6" y="97.6" width="5.39" height="1.05" fill="#0f391d"/>
<rect x="96.6" y="98.6" width="5.39" height="1.05" fill="#185c2f"/>
<rect x="96.6" y="99.6" width="5.39" height="1.05" fill="#1f773d"/>
<rect x="96.6" y="100.6" width="5.39" height="1.05" fill="#185d2f"/>
<rect x="96.6" y="101.6" width="5.39" height="1.05" fill="#1e723a"/>
<rect x="96.6" y="102.6" width="5.39" height="1.05" fill="#15522a"/>
<rect x="96.6" y="103.6" width="5.39" height="1.05" fill="#134b26"/>
<rect x="96.6" y="104.6" width="5.39" height="1.05" fill="#1f763c"/>
<rect x="96.6" y="105.6" width="5.39" height="1.05" fill="#269049"/>
<rect x="96.6" y="106.6" width="5.39" height="1.05" fill="#207a3e"/>
<rect x="96.6" y="107.6" width="5.39" height="1.05" fill="#134a26"/>
<rect x="96.6" y="108.6" width="5.39" height="1.05" fill="#1d7039"/>
<rect x="96.6" y="109.6" width="5.39" height="1.05" fill="#1a6332"/>
<rect x="96.6" y="110.6" width="5.39" height="1.05" fill="#1d6d37"/>
<rect x="96.6" y="111.6" width="5.39" height="1.05" fill="#0f3a1d"/>
<rect x="96.6" y="112.6" width="5.39" height="1.05" fill="#1d7039"/>
<rect x="96.6" y="113.6" width="5.39" height="1.05" fill="#1a6232"/>
<rect x="96.6" y="114.6" width="5.39" height="1.05" fill="#114121"/>
<rect x="96.6" y="115.6" width="5.39" height="1.05" fill="#124422"/>
<rect x="96.6" y="116.6" width="5.39" height="1.05" fill="#248a46"/>
<rect x="96.6" y="117.6" width="5.39" height="1.05" fill="#195e30"/>
<rect x="96.6" y="118.6" width="5.39" height="1.05" fill="#195e30"/>
<rect x="96.6" y="119.6" width="5.39" height="1.05" fill="#0f3b1e"/>
<rect x="96.6" y="120.6" width="5.39" height="1.05" fill="#16542b"/>
<rect x="96.6" y="121.6" width="5.39" height="1.05" fill="#124523"/>
<rect x="96.6" y="122.6" width="5.39" height="1.05" fill="#1a6433"/>
<rect x="96.6" y="123.6" width="5.39" height="1.05" fill="#1a6332"/>
<rect x="96.6" y="124.6" width="5.39" height="1.05" fill="#0d341a"/>
<rect x="96.6" y="125.6" width="5.39" height="1.05" fill="#185c2f"/>
<rect x="96.6" y="126.6" width="5.39" height="1.05" fill="#144d27"/>
<rect x="96.6" y="127.6" width="5.39" height="1.05" fill="#1a6232"/>
<rect x="96.6" y="128.6" width="5.39" height="1.05" fill="#144d27"/>
<rect x="96.6" y="129.6" width="5.39" height="1.05" fill="#1c6935"/>
<rect x="96.6" y="130.6" width="5.39" height="1.05" fill="#207b3e"/>
<rect x="96.6" y="131.6" width="5.39" height="1.05" fill="#0e351b"/>
<rect x="96.6" y="132.6" width="5.39" height="1.05" fill="#175a2d"/>
<rect x="96.6" y="133.6" width="5.39" height="1.05" fill="#185c2f"/>
<rect x="96.6" y="134.6" width="5.39" height="1.05" fill="#1e733a"/>
<rect x="96.6" y="135.6" width="5.39" height="1.05" fill="#114221"/>
<rect x="96.6" y="136.6" width="5.39" height="1.05" fill="#1b6734"/>
<rect x="96.6" y="137.6" width="5.39" height="1.05" fill="#1c6a36"/>
<rect x="96.6" y="138.6" width="5.39" height="1.05" fill="#17572c"/>
<rect x="96.6" y="139.6" width="5.39" height="1.05" fill="#299c50"/>
<rect x="96.6" y="140.6" width="5.39" height="1.05" fill="#134925"/>
<rect x="96.6" y="141.6" width="5.39" height="1.05" fill="#238443"/>
<rect x="96.6" y="142.6" width="5.39" height="1.05" fill="#114221"/>
<rect x="96.6" y="143.6" width="5.39" height="1.05" fill="#103f20"/>
<rect x="96.6" y="144.6" width="5.39" height="1.05" fill="#238644"/>
<rect x="96.6" y="145.6" width="5.39" height="1.05" fill="#1d6e38"/>
<rect x="96.6" y="146.6" width="5.39" height="1.05" fill="#1f753c"/>
<rect x="96.6" y="147.6" width="5.39" height="1.05" fill="#144d27"/>
<rect x="96.6" y="148.6" width="5.39" height="1.05" fill="#16532a"/>
<rect x="96.6" y="149.6" width="5.39" height="1.05" fill="#155129"/>
<rect x="96.6" y="150.6" width="5.39" height="1.05" fill="#1a6332"/>
<rect x="96.6" y="151.6" width="5.39" height="1.05" fill="#134a25"/>
<rect x="96.6" y="152.6" width="5.39" height="1.05" fill="#185b2e"/>
<rect x="96.6" y="153.6" width="5.39" height="1.05" fill="#1f763c"/>
<rect x="96.6" y="154.6" width="5.39" height="1.05" fill="#114121"/>
<rect x="96.6" y="155.6" width="5.39" height="1.05" fill="#17582d"/>
<rect x="96.6" y="156.6" width="5.39" height="1.05" fill="#1b6734"/>
<rect x="96.6" y="157.6" width="5.39" height="1.05" fill="#195f30"/>
<rect x="96.6" y="158.6" width="5.39" height="1.05" fill="#134a26"/>
<rect x="96.6" y="159.6" width="5.39" height="1.05" fill="#1e723a"/>
<rect x="96.6" y="160.6" width="5.39" height="1.05" fill="#1d6f38"/>
<rect x="96.6" y="161.6" width="5.39" height="1.05" fill="#144b26"/>
<rect x="96.6" y="162.6" width="5.39" height="1.05" fill="#207b3e"/>
<rect x="96.6" y="163.6" width="5.39" height="1.05" fill="#1e733b"/>
<rect x="96.6" y="164.6" width="5.39" height="1.05" fill="#207c3f"/>
<rect x="96.6" y="165.6" width="5.39" height="1.05" fill="#124523"/>
<rect x="96.6" y="166.6" width="5.39" height="1.05" fill="#299c50"/>
<rect x="102.0" y="60.6" width="5.39" height="1.05" fill="#248b47"/>
<rect x="102.0" y="61.6" width="5.39" height="1.05" fill="#1f763c"/>
<rect x="102.0" y="62.6" width="5.39" height="1.05" fill="#258d47"/>
<rect x="102.0" y="63.6" width="5.39" height="1.05" fill="#217f41"/>
<rect x="102.0" y="64.6" width="5.39" height="1.05" fill="#196131"/>
<rect x="102.0" y="65.6" width="5.39" height="1.05" fill="#144e28"/>
<rect x="102.0" y="66.6" width="5.39" height="1.05" fill="#16552b"/>
<rect x="102.0" y="67.6" width="5.39" height="1.05" fill="#1a6232"/>
<rect x="102.0" y="68.6" width="5.39" height="1.05" fill="#16542b"/>
<rect x="102.0" y="69.6" width="5.39" height="1.05" fill="#2ba353"/>
<rect x="102.0" y="70.6" width="5.39" height="1.05" fill="#195f30"/>
<rect x="102.0" y="71.6" width="5.39" height="1.05" fill="#1d6e38"/>
<rect x="102.0" y="72.6" width="5.39" height="1.05" fill="#0d3219"/>
<rect x="102.0" y="73.6" width="5.39" height="1.05" fill="#17582d"/>
<rect x="102.0" y="74.6" width="5.39" height="1.05" fill="#1b6634"/>
<rect x="102.0" y="75.6" width="5.39" height="1.05" fill="#185d2f"/>
<rect x="102.0" y="76.6" width="5.39" height="1.05" fill="#17582d"/>
<rect x="102.0" y="77.6" width="5.39" height="1.05" fill="#0f3b1e"/>
<rect x="102.0" y="78.6" width="5.39" height="1.05" fill="#1e743b"/>
<rect x="102.0" y="79.6" width="5.39" height="1.05" fill="#1b6634"/>
<rect x="102.0" y="80.6" width="5.39" height="1.05" fill="#2ba353"/>
<rect x="102.0" y="81.6" width="5.39" height="1.05" fill="#1a6232"/>
<rect x="102.0" y="82.6" width="5.39" height="1.05" fill="#1b6734"/>
<rect x="102.0" y="83.6" width="5.39" height="1.05" fill="#258e48"/>
<rect x="102.0" y="84.6" width="5.39" height="1.05" fill="#1b6835"/>
<rect x="102.0" y="85.6" width="5.39" height="1.05" fill="#1f753b"/>
<rect x="102.0" y="86.6" width="5.39" height="1.05" fill="#1b6634"/>
<rect x="102.0" y="87.6" width="5.39" height="1.05" fill="#1e743b"/>
<rect x="102.0" y="88.6" width="5.39" height="1.05" fill="#248b46"/>
<rect x="102.0" y="89.6" width="5.39" height="1.05" fill="#1e723a"/>
<rect x="102.0" y="90.6" width="5.39" height="1.05" fill="#228141"/>
<rect x="102.0" y="91.6" width="5.39" height="1.05" fill="#195e30"/>
<rect x="102.0" y="92.6" width="5.39" height="1.05" fill="#1e743b"/>
<rect x="102.0" y="93.6" width="5.39" height="1.05" fill="#154f28"/>
<rect x="102.0" y="94.6" width="5.39" height="1.05" fill="#228041"/>
<rect x="102.0" y="95.6" width="5.39" height="1.05" fill="#185d2f"/>
<rect x="102.0" y="96.6" width="5.39" height="1.05" fill="#124523"/>
<rect x="102.0" y="97.6" width="5.39" height="1.05" fill="#1b6734"/>
<rect x="102.0" y="98.6" width="5.39" height="1.05" fill="#238745"/>
<rect x="102.0" y="99.6" width="5.39" height="1.05" fill="#17572c"/>
<rect x="102.0" y="100.6" width="5.39" height="1.05" fill="#228041"/>
<rect x="102.0" y="101.6" width="5.39" height="1.05" fill="#155129"/>
<rect x="102.0" y="102.6" width="5.39" height="1.05" fill="#195f30"/>
<rect x="102.0" y="103.6" width="5.39" height="1.05" fill="#144e27"/>
<rect x="102.0" y="104.6" width="5.39" height="1.05" fill="#1e733b"/>
<rect x="102.0" y="105.6" width="5.39" height="1.05" fill="#2ba353"/>
<rect x="102.0" y="106.6" width="5.39" height="1.05" fill="#195e30"/>
<rect x="102.0" y="107.6" width="5.39" height="1.05" fill="#144f28"/>
<rect x="102.0" y="108.6" width="5.39" height="1.05" fill="#185d2f"/>
<rect x="102.0" y="109.6" width="5.39" height="1.05" fill="#27934b"/>
<rect x="102.0" y="110.6" width="5.39" height="1.05" fill="#20793d"/>
<rect x="102.0" y="111.6" width="5.39" height="1.05" fill="#0e351b"/>
<rect x="102.0" y="112.6" width="5.39" height="1.05" fill="#103c1e"/>
<rect x="102.0" y="113.6" width="5.39" height="1.05" fill="#1a6533"/>
<rect x="102.0" y="114.6" width="5.39" height="1.05" fill="#1b6835"/>
<rect x="102.0" y="115.6" width="5.39" height="1.05" fill="#248a46"/>
<rect x="102.0" y="116.6" width="5.39" height="1.05" fill="#1d6e38"/>
<rect x="102.0" y="117.6" width="5.39" height="1.05" fill="#1a6332"/>
<rect x="102.0" y="118.6" width="5.39" height="1.05" fill="#1d7039"/>
<rect x="102.0" y="119.6" width="5.39" height="1.05" fill="#0c2f18"/>
<rect x="102.0" y="120.6" width="5.39" height="1.05" fill="#1e723a"/>
<rect x="102.0" y="121.6" width="5.39" height="1.05" fill="#144b26"/>
<rect x="102.0" y="122.6" width="5.39" height="1.05" fill="#238744"/>
<rect x="102.0" y="123.6" width="5.39" height="1.05" fill="#144e27"/>
<rect x="102.0" y="124.6" width="5.39" height="1.05" fill="#0c2d17"/>
<rect x="102.0" y="125.6" width="5.39" height="1.05" fill="#217d3f"/>
<rect x="102.0" y="126.6" width="5.39" height="1.05" fill="#114322"/>
<rect x="102.0" y="127.6" width="5.39" height="1.05" fill="#228242"/>
<rect x="102.0" y="128.6" width="5.39" height="1.05" fill="#144f28"/>
<rect x="102.0" y="129.6" width="5.39" height="1.05" fill="#155028"/>
<rect x="102.0" y="130.6" width="5.39" height="1.05" fill="#238744"/>
<rect x="102.0" y="131.6" width="5.39" height="1.05" fill="#1e743b"/>
<rect x="102.0" y="132.6" width="5.39" height="1.05" fill="#114021"/>
<rect x="102.0" y="133.6" width="5.39" height="1.05" fill="#299b4f"/>
<rect x="102.0" y="134.6" width="5.39" height="1.05" fill="#1e723a"/>
<rect x="102.0" y="135.6" width="5.39" height="1.05" fill="#1e733b"/>
<rect x="102.0" y="136.6" width="5.39" height="1.05" fill="#144e28"/>
<rect x="102.0" y="137.6" width="5.39" height="1.05" fill="#1a6533"/>
<rect x="102.0" y="138.6" width="5.39" height="1.05" fill="#185a2e"/>
<rect x="102.0" y="139.6" width="5.39" height="1.05" fill="#2ba353"/>
<rect x="102.0" y="140.6" width="5.39" height="1.05" fill="#0f3b1e"/>
<rect x="102.0" y="141.6" width="5.39" height="1.05" fill="#195f30"/>
<rect x="102.0" y="142.6" width="5.39" height="1.05" fill="#0f3a1d"/>
<rect x="102.0" y="143.6" width="5.39" height="1.05" fill="#1a6332"/>
<rect x="102.0" y="144.6" width="5.39" height="1.05" fill="#1f783d"/>
<rect x="102.0" y="145.6" width="5.39" height="1.05" fill="#124523"/>
<rect x="102.0" y="146.6" width="5.39" height="1.05" fill="#1a6232"/>
<rect x="102.0" y="147.6" width="5.39" height="1.05" fill="#16562c"/>
<rect x="102.0" y="148.6" width="5.39" height="1.05" fill="#1b6734"/>
<rect x="102.0" y="149.6" width="5.39" height="1.05" fill="#217e40"/>
<rect x="102.0" y="150.6" width="5.39" height="1.05" fill="#155129"/>
<rect x="102.0" y="151.6" width="5.39" height="1.05" fill="#114121"/>
<rect x="102.0" y="152.6" width="5.39" height="1.05" fill="#114020"/>
<rect x="102.0" y="153.6" width="5.39" height="1.05" fill="#1b6935"/>
<rect x="102.0" y="154.6" width="5.39" height="1.05" fill="#1e743b"/>
<rect x="102.0" y="155.6" width="5.39" height="1.05" fill="#207b3e"/>
<rect x="102.0" y="156.6" width="5.39" height="1.05" fill="#1e743b"/>
<rect x="102.0" y="157.6" width="5.39" height="1.05" fill="#1c6b36"/>
<rect x="102.0" y="158.6" width="5.39" height="1.05" fill="#114221"/>
<rect x="102.0" y="159.6" width="5.39" height="1.05" fill="#27944b"/>
<rect x="102.0" y="160.6" width="5.39" height="1.05" fill="#27964c"/>
<rect x="102.0" y="161.6" width="5.39" height="1.05" fill="#175a2d"/>
<rect x="102.0" y="162.6" width="5.39" height="1.05" fill="#1c6b36"/>
<rect x="102.0" y="163.6" width="5.39" height="1.05" fill="#134925"/>
<rect x="102.0" y="164.6" width="5.39" height="1.05" fill="#144e28"/>
<rect x="102.0" y="165.6" width="5.39" height="1.05" fill="#16542b"/>
<rect x="102.0" y="166.6" width="5.39" height="1.05" fill="#1b6734"/>
<rect x="107.3" y="60.6" width="5.39" height="1.05" fill="#144e28"/>
<rect x="107.3" y="61.6" width="5.39" height="1.05" fill="#195f31"/>
<rect x="107.3" y="62.6" width="5.39" height="1.05" fill="#217e41"/>
<rect x="107.3" y="63.6" width="5.39" height="1.05" fill="#26904b"/>
<rect x="107.3" y="64.6" width="5.39" height="1.05" fill="#1d6f3a"/>
<rect x="107.3" y="65.6" width="5.39" height="1.05" fill="#1c6b37"/>
<rect x="107.3" y="66.6" width="5.39" height="1.05" fill="#16562c"/>
<rect x="107.3" y="67.6" width="5.39" height="1.05" fill="#207b40"/>
<rect x="107.3" y="68.6" width="5.39" height="1.05" fill="#15512a"/>
<rect x="107.3" y="69.6" width="5.39" height="1.05" fill="#26924b"/>
<rect x="107.3" y="70.6" width="5.39" height="1.05" fill="#185c30"/>
<rect x="107.3" y="71.6" width="5.39" height="1.05" fill="#228444"/>
<rect x="107.3" y="72.6" width="5.39" height="1.05" fill="#1b6635"/>
<rect x="107.3" y="73.6" width="5.39" height="1.05" fill="#185d30"/>
<rect x="107.3" y="74.6" width="5.39" height="1.05" fill="#258d49"/>
<rect x="107.3" y="75.6" width="5.39" height="1.05" fill="#26914b"/>
<rect x="107.3" y="76.6" width="5.39" height="1.05" fill="#207a3f"/>
<rect x="107.3" y="77.6" width="5.39" height="1.05" fill="#1a6233"/>
<rect x="107.3" y="78.6" width="5.39" height="1.05" fill="#185b2f"/>
<rect x="107.3" y="79.6" width="5.39" height="1.05" fill="#196032"/>
<rect x="107.3" y="80.6" width="5.39" height="1.05" fill="#1d6e39"/>
<rect x="107.3" y="81.6" width="5.39" height="1.05" fill="#1b6635"/>
<rect x="107.3" y="82.6" width="5.39" height="1.05" fill="#2ca958"/>
<rect x="107.3" y="83.6" width="5.39" height="1.05" fill="#228143"/>
<rect x="107.3" y="84.6" width="5.39" height="1.05" fill="#207a3f"/>
<rect x="107.3" y="85.6" width="5.39" height="1.05" fill="#196132"/>
<rect x="107.3" y="86.6" width="5.39" height="1.05" fill="#1a6233"/>
<rect x="107.3" y="87.6" width="5.39" height="1.05" fill="#228143"/>
<rect x="107.3" y="88.6" width="5.39" height="1.05" fill="#1e733b"/>
<rect x="107.3" y="89.6" width="5.39" height="1.05" fill="#144e28"/>
<rect x="107.3" y="90.6" width="5.39" height="1.05" fill="#228444"/>
<rect x="107.3" y="91.6" width="5.39" height="1.05" fill="#185d30"/>
<rect x="107.3" y="92.6" width="5.39" height="1.05" fill="#26924c"/>
<rect x="107.3" y="93.6" width="5.39" height="1.05" fill="#0e351b"/>
<rect x="107.3" y="94.6" width="5.39" height="1.05" fill="#1d6f3a"/>
<rect x="107.3" y="95.6" width="5.39" height="1.05" fill="#258e4a"/>
<rect x="107.3" y="96.6" width="5.39" height="1.05" fill="#114323"/>
<rect x="107.3" y="97.6" width="5.39" height="1.05" fill="#1a6233"/>
<rect x="107.3" y="98.6" width="5.39" height="1.05" fill="#1e743c"/>
<rect x="107.3" y="99.6" width="5.39" height="1.05" fill="#1e733c"/>
<rect x="107.3" y="100.6" width="5.39" height="1.05" fill="#124423"/>
<rect x="107.3" y="101.6" width="5.39" height="1.05" fill="#16542c"/>
<rect x="107.3" y="102.6" width="5.39" height="1.05" fill="#103d20"/>
<rect x="107.3" y="103.6" width="5.39" height="1.05" fill="#207c40"/>
<rect x="107.3" y="104.6" width="5.39" height="1.05" fill="#1b6735"/>
<rect x="107.3" y="105.6" width="5.39" height="1.05" fill="#248a48"/>
<rect x="107.3" y="106.6" width="5.39" height="1.05" fill="#185d30"/>
<rect x="107.3" y="107.6" width="5.39" height="1.05" fill="#16552c"/>
<rect x="107.3" y="108.6" width="5.39" height="1.05" fill="#258e4a"/>
<rect x="107.3" y="109.6" width="5.39" height="1.05" fill="#248947"/>
<rect x="107.3" y="110.6" width="5.39" height="1.05" fill="#1b6735"/>
<rect x="107.3" y="111.6" width="5.39" height="1.05" fill="#144e28"/>
<rect x="107.3" y="112.6" width="5.39" height="1.05" fill="#114322"/>
<rect x="107.3" y="113.6" width="5.39" height="1.05" fill="#134a26"/>
<rect x="107.3" y="114.6" width="5.39" height="1.05" fill="#144e28"/>
<rect x="107.3" y="115.6" width="5.39" height="1.05" fill="#16562c"/>
<rect x="107.3" y="116.6" width="5.39" height="1.05" fill="#1c6b37"/>
<rect x="107.3" y="117.6" width="5.39" height="1.05" fill="#207c40"/>
<rect x="107.3" y="118.6" width="5.39" height="1.05" fill="#2ca958"/>
<rect x="107.3" y="119.6" width="5.39" height="1.05" fill="#124423"/>
<rect x="107.3" y="120.6" width="5.39" height="1.05" fill="#1a6534"/>
<rect x="107.3" y="121.6" width="5.39" height="1.05" fill="#1c6a37"/>
<rect x="107.3" y="122.6" width="5.39" height="1.05" fill="#1e733b"/>
<rect x="107.3" y="123.6" width="5.39" height="1.05" fill="#26924b"/>
<rect x="107.3" y="124.6" width="5.39" height="1.05" fill="#16552c"/>
<rect x="107.3" y="125.6" width="5.39" height="1.05" fill="#185c30"/>
<rect x="107.3" y="126.6" width="5.39" height="1.05" fill="#16552c"/>
<rect x="107.3" y="127.6" width="5.39" height="1.05" fill="#1d6e39"/>
<rect x="107.3" y="128.6" width="5.39" height="1.05" fill="#17582d"/>
<rect x="107.3" y="129.6" width="5.39" height="1.05" fill="#134b27"/>
<rect x="107.3" y="130.6" width="5.39" height="1.05" fill="#15512a"/>
<rect x="107.3" y="131.6" width="5.39" height="1.05" fill="#0e371c"/>
<rect x="107.3" y="132.6" width="5.39" height="1.05" fill="#1f783e"/>
<rect x="107.3" y="133.6" width="5.39" height="1.05" fill="#207b3f"/>
<rect x="107.3" y="134.6" width="5.39" height="1.05" fill="#1d6d38"/>
<rect x="107.3" y="135.6" width="5.39" height="1.05" fill="#0e371c"/>
<rect x="107.3" y="136.6" width="5.39" height="1.05" fill="#1f783e"/>
<rect x="107.3" y="137.6" width="5.39" height="1.05" fill="#1b6836"/>
<rect x="107.3" y="138.6" width="5.39" height="1.05" fill="#134825"/>
<rect x="107.3" y="139.6" width="5.39" height="1.05" fill="#207a3f"/>
<rect x="107.3" y="140.6" width="5.39" height="1.05" fill="#1a6433"/>
<rect x="107.3" y="141.6" width="5.39" height="1.05" fill="#238545"/>
<rect x="107.3" y="142.6" width="5.39" height="1.05" fill="#1a6534"/>
<rect x="107.3" y="143.6" width="5.39" height="1.05" fill="#1f773d"/>
<rect x="107.3" y="144.6" width="5.39" height="1.05" fill="#1b6735"/>
<rect x="107.3" y="145.6" width="5.39" height="1.05" fill="#1d6f39"/>
<rect x="107.3" y="146.6" width="5.39" height="1.05" fill="#1e753c"/>
<rect x="107.3" y="147.6" width="5.39" height="1.05" fill="#175a2f"/>
<rect x="107.3" y="148.6" width="5.39" height="1.05" fill="#155029"/>
<rect x="107.3" y="149.6" width="5.39" height="1.05" fill="#1d703a"/>
<rect x="107.3" y="150.6" width="5.39" height="1.05" fill="#17582d"/>
<rect x="107.3" y="151.6" width="5.39" height="1.05" fill="#144e28"/>
<rect x="107.3" y="152.6" width="5.39" height="1.05" fill="#1f773e"/>
<rect x="107.3" y="153.6" width="5.39" height="1.05" fill="#248b48"/>
<rect x="107.3" y="154.6" width="5.39" height="1.05" fill="#217f42"/>
<rect x="107.3" y="155.6" width="5.39" height="1.05" fill="#2ca958"/>
<rect x="107.3" y="156.6" width="5.39" height="1.05" fill="#1e743c"/>
<rect x="107.3" y="157.6" width="5.39" height="1.05" fill="#134925"/>
<rect x="107.3" y="158.6" width="5.39" height="1.05" fill="#1a6433"/>
<rect x="107.3" y="159.6" width="5.39" height="1.05" fill="#248947"/>
<rect x="107.3" y="160.6" width="5.39" height="1.05" fill="#2ca958"/>
<rect x="107.3" y="161.6" width="5.39" height="1.05" fill="#1e743c"/>
<rect x="107.3" y="162.6" width="5.39" height="1.05" fill="#27964e"/>
<rect x="107.3" y="163.6" width="5.39" height="1.05" fill="#185d30"/>
<rect x="107.3" y="164.6" width="5.39" height="1.05" fill="#16552c"/>
<rect x="107.3" y="165.6" width="5.39" height="1.05" fill="#144e28"/>
<rect x="107.3" y="166.6" width="5.39" height="1.05" fill="#258d49"/>
<rect x="112.7" y="60.6" width="5.39" height="1.05" fill="#21773e"/>
<rect x="112.7" y="61.6" width="5.39" height="1.05" fill="#21783e"/>
<rect x="112.7" y="62.6" width="5.39" height="1.05" fill="#2c9d51"/>
<rect x="112.7" y="63.6" width="5.39" height="1.05" fill="#33b960"/>
<rect x="112.7" y="64.6" width="5.39" height="1.05" fill="#29954d"/>
<rect x="112.7" y="65.6" width="5.39" height="1.05" fill="#1f703a"/>
<rect x="112.7" y="66.6" width="5.39" height="1.05" fill="#1e6e39"/>
<rect x="112.7" y="67.6" width="5.39" height="1.05" fill="#33b75f"/>
<rect x="112.7" y="68.6" width="5.39" height="1.05" fill="#34bd62"/>
<rect x="112.7" y="69.6" width="5.39" height="1.05" fill="#31b15c"/>
<rect x="112.7" y="70.6" width="5.39" height="1.05" fill="#2a984f"/>
<rect x="112.7" y="71.6" width="5.39" height="1.05" fill="#36c264"/>
<rect x="112.7" y="72.6" width="5.39" height="1.05" fill="#268947"/>
<rect x="112.7" y="73.6" width="5.39" height="1.05" fill="#28914b"/>
<rect x="112.7" y="74.6" width="5.39" height="1.05" fill="#268b48"/>
<rect x="112.7" y="75.6" width="5.39" height="1.05" fill="#36c365"/>
<rect x="112.7" y="76.6" width="5.39" height="1.05" fill="#38cb69"/>
<rect x="112.7" y="77.6" width="5.39" height="1.05" fill="#248143"/>
<rect x="112.7" y="78.6" width="5.39" height="1.05" fill="#3bd56e"/>
<rect x="112.7" y="79.6" width="5.39" height="1.05" fill="#3cd971"/>
<rect x="112.7" y="80.6" width="5.39" height="1.05" fill="#3ede73"/>
<rect x="112.7" y="81.6" width="5.39" height="1.05" fill="#39cc6a"/>
<rect x="112.7" y="82.6" width="5.39" height="1.05" fill="#32b35d"/>
<rect x="112.7" y="83.6" width="5.39" height="1.05" fill="#2a974e"/>
<rect x="112.7" y="84.6" width="5.39" height="1.05" fill="#248444"/>
<rect x="112.7" y="85.6" width="5.39" height="1.05" fill="#278c48"/>
<rect x="112.7" y="86.6" width="5.39" height="1.05" fill="#2ea656"/>
<rect x="112.7" y="87.6" width="5.39" height="1.05" fill="#36c164"/>
<rect x="112.7" y="88.6" width="5.39" height="1.05" fill="#31b25c"/>
<rect x="112.7" y="89.6" width="5.39" height="1.05" fill="#17532b"/>
<rect x="112.7" y="90.6" width="5.39" height="1.05" fill="#39cf6b"/>
<rect x="112.7" y="91.6" width="5.39" height="1.05" fill="#3dd971"/>
<rect x="112.7" y="92.6" width="5.39" height="1.05" fill="#2fa958"/>
<rect x="112.7" y="93.6" width="5.39" height="1.05" fill="#2da154"/>
<rect x="112.7" y="94.6" width="5.39" height="1.05" fill="#30ad5a"/>
<rect x="112.7" y="95.6" width="5.39" height="1.05" fill="#38c968"/>
<rect x="112.7" y="96.6" width="5.39" height="1.05" fill="#18582d"/>
<rect x="112.7" y="97.6" width="5.39" height="1.05" fill="#22793f"/>
<rect x="112.7" y="98.6" width="5.39" height="1.05" fill="#248143"/>
<rect x="112.7" y="99.6" width="5.39" height="1.05" fill="#2ea455"/>
<rect x="112.7" y="100.6" width="5.39" height="1.05" fill="#2b9a50"/>
<rect x="112.7" y="101.6" width="5.39" height="1.05" fill="#29954d"/>
<rect x="112.7" y="102.6" width="5.39" height="1.05" fill="#268847"/>
<rect x="112.7" y="103.6" width="5.39" height="1.05" fill="#2c9d51"/>
<rect x="112.7" y="104.6" width="5.39" height="1.05" fill="#278b48"/>
<rect x="112.7" y="105.6" width="5.39" height="1.05" fill="#40e577"/>
<rect x="112.7" y="106.6" width="5.39" height="1.05" fill="#227c40"/>
<rect x="112.7" y="107.6" width="5.39" height="1.05" fill="#29954d"/>
<rect x="112.7" y="108.6" width="5.39" height="1.05" fill="#31b05b"/>
<rect x="112.7" y="109.6" width="5.39" height="1.05" fill="#2da254"/>
<rect x="112.7" y="110.6" width="5.39" height="1.05" fill="#268947"/>
<rect x="112.7" y="111.6" width="5.39" height="1.05" fill="#164f29"/>
<rect x="112.7" y="112.6" width="5.39" height="1.05" fill="#258444"/>
<rect x="112.7" y="113.6" width="5.39" height="1.05" fill="#37c566"/>
<rect x="112.7" y="114.6" width="5.39" height="1.05" fill="#2da254"/>
<rect x="112.7" y="115.6" width="5.39" height="1.05" fill="#288f4a"/>
<rect x="112.7" y="116.6" width="5.39" height="1.05" fill="#29954d"/>
<rect x="112.7" y="117.6" width="5.39" height="1.05" fill="#32b55e"/>
<rect x="112.7" y="118.6" width="5.39" height="1.05" fill="#35bf63"/>
<rect x="112.7" y="119.6" width="5.39" height="1.05" fill="#195b2f"/>
<rect x="112.7" y="120.6" width="5.39" height="1.05" fill="#21793e"/>
<rect x="112.7" y="121.6" width="5.39" height="1.05" fill="#278b48"/>
<rect x="112.7" y="122.6" width="5.39" height="1.05" fill="#34ba60"/>
<rect x="112.7" y="123.6" width="5.39" height="1.05" fill="#258445"/>
<rect x="112.7" y="124.6" width="5.39" height="1.05" fill="#134725"/>
<rect x="112.7" y="125.6" width="5.39" height="1.05" fill="#35bf63"/>
<rect x="112.7" y="126.6" width="5.39" height="1.05" fill="#18582e"/>
<rect x="112.7" y="127.6" width="5.39" height="1.05" fill="#2fa857"/>
<rect x="112.7" y="128.6" width="5.39" height="1.05" fill="#227c40"/>
<rect x="112.7" y="129.6" width="5.39" height="1.05" fill="#2a964e"/>
<rect x="112.7" y="130.6" width="5.39" height="1.05" fill="#278c49"/>
<rect x="112.7" y="131.6" width="5.39" height="1.05" fill="#28904b"/>
<rect x="112.7" y="132.6" width="5.39" height="1.05" fill="#28904a"/>
<rect x="112.7" y="133.6" width="5.39" height="1.05" fill="#32b35d"/>
<rect x="112.7" y="134.6" width="5.39" height="1.05" fill="#237f42"/>
<rect x="112.7" y="135.6" width="5.39" height="1.05" fill="#32b45d"/>
<rect x="112.7" y="136.6" width="5.39" height="1.05" fill="#227a3f"/>
<rect x="112.7" y="137.6" width="5.39" height="1.05" fill="#2ea757"/>
<rect x="112.7" y="138.6" width="5.39" height="1.05" fill="#288f4a"/>
<rect x="112.7" y="139.6" width="5.39" height="1.05" fill="#43f07c"/>
<rect x="112.7" y="140.6" width="5.39" height="1.05" fill="#1e6d38"/>
<rect x="112.7" y="141.6" width="5.39" height="1.05" fill="#34bd62"/>
<rect x="112.7" y="142.6" width="5.39" height="1.05" fill="#237f42"/>
<rect x="112.7" y="143.6" width="5.39" height="1.05" fill="#31af5b"/>
<rect x="112.7" y="144.6" width="5.39" height="1.05" fill="#3edf74"/>
<rect x="112.7" y="145.6" width="5.39" height="1.05" fill="#278e4a"/>
<rect x="112.7" y="146.6" width="5.39" height="1.05" fill="#32b25d"/>
<rect x="112.7" y="147.6" width="5.39" height="1.05" fill="#1a5e30"/>
<rect x="112.7" y="148.6" width="5.39" height="1.05" fill="#268a48"/>
<rect x="112.7" y="149.6" width="5.39" height="1.05" fill="#38cb69"/>
<rect x="112.7" y="150.6" width="5.39" height="1.05" fill="#248143"/>
<rect x="112.7" y="151.6" width="5.39" height="1.05" fill="#1b6233"/>
<rect x="112.7" y="152.6" width="5.39" height="1.05" fill="#237e41"/>
<rect x="112.7" y="153.6" width="5.39" height="1.05" fill="#3ddb72"/>
<rect x="112.7" y="154.6" width="5.39" height="1.05" fill="#38cb69"/>
<rect x="112.7" y="155.6" width="5.39" height="1.05" fill="#3bd46e"/>
<rect x="112.7" y="156.6" width="5.39" height="1.05" fill="#16512a"/>
<rect x="112.7" y="157.6" width="5.39" height="1.05" fill="#248143"/>
<rect x="112.7" y="158.6" width="5.39" height="1.05" fill="#2c9f53"/>
<rect x="112.7" y="159.6" width="5.39" height="1.05" fill="#237e41"/>
<rect x="112.7" y="160.6" width="5.39" height="1.05" fill="#3fe376"/>
<rect x="112.7" y="161.6" width="5.39" height="1.05" fill="#32b25d"/>
<rect x="112.7" y="162.6" width="5.39" height="1.05" fill="#3bd56e"/>
<rect x="112.7" y="163.6" width="5.39" height="1.05" fill="#3bd26d"/>
<rect x="112.7" y="164.6" width="5.39" height="1.05" fill="#268846"/>
<rect x="112.7" y="165.6" width="5.39" height="1.05" fill="#164f29"/>
<rect x="112.7" y="166.6" width="5.39" height="1.05" fill="#31b15c"/>
</g></g>
<text transform="translate(36.97,56.8) rotate(-89.9)" font-size="5.1" font-weight="bold" textLength="38.5" lengthAdjust="spacing">A<tspan font-size="3.6" dy="-1.7">+</tspan><tspan dy="1.7"> CRCM 214x</tspan></text>
<text transform="translate(42.32,56.8) rotate(-89.9)" font-size="5.1" font-weight="bold" textLength="38.5" lengthAdjust="spacing">A<tspan font-size="3.6" dy="-1.7">+</tspan><tspan dy="1.7"> CRCM 389x</tspan></text>
<text transform="translate(47.66,56.8) rotate(-89.9)" font-size="5.1" font-weight="bold" textLength="38.5" lengthAdjust="spacing">A<tspan font-size="3.6" dy="-1.7">+</tspan><tspan dy="1.7"> CRCM 181x</tspan></text>
<text transform="translate(53.00,56.8) rotate(-89.9)" font-size="5.1" font-weight="bold" textLength="38.5" lengthAdjust="spacing">A<tspan font-size="3.6" dy="-1.7">+</tspan><tspan dy="1.7"> CRCM 226x</tspan></text>
<text transform="translate(58.35,56.8) rotate(-89.9)" font-size="5.1" font-weight="bold" textLength="38.5" lengthAdjust="spacing">A<tspan font-size="3.6" dy="-1.7">+</tspan><tspan dy="1.7"> CRCM 166x</tspan></text>
<text transform="translate(63.69,56.8) rotate(-89.9)" font-size="5.1" font-weight="bold" textLength="38.5" lengthAdjust="spacing">A<tspan font-size="3.6" dy="-1.7">+</tspan><tspan dy="1.7"> CRCM 237x</tspan></text>
<text transform="translate(69.03,56.8) rotate(-89.9)" font-size="5.1" font-weight="bold" textLength="38.5" lengthAdjust="spacing">A<tspan font-size="3.6" dy="-1.7">+</tspan><tspan dy="1.7"> CRCM 174x</tspan></text>
<text transform="translate(74.38,56.8) rotate(-89.9)" font-size="5.1" font-weight="bold" textLength="38.5" lengthAdjust="spacing">A<tspan font-size="3.6" dy="-1.7">+</tspan><tspan dy="1.7"> CRCM 216x</tspan></text>
<text transform="translate(79.72,56.8) rotate(-89.9)" font-size="5.1" font-weight="bold" textLength="38.5" lengthAdjust="spacing">A<tspan font-size="3.6" dy="-1.7">−</tspan><tspan dy="1.7"> CRCM 214x</tspan></text>
<text transform="translate(85.07,56.8) rotate(-89.9)" font-size="5.1" font-weight="bold" textLength="38.5" lengthAdjust="spacing">A<tspan font-size="3.6" dy="-1.7">−</tspan><tspan dy="1.7"> CRCM 181x</tspan></text>
<text transform="translate(90.41,56.8) rotate(-89.9)" font-size="5.1" font-weight="bold" textLength="38.5" lengthAdjust="spacing">A<tspan font-size="3.6" dy="-1.7">−</tspan><tspan dy="1.7"> CRCM 389x</tspan></text>
<text transform="translate(95.75,56.8) rotate(-89.9)" font-size="5.1" font-weight="bold" textLength="38.5" lengthAdjust="spacing">A<tspan font-size="3.6" dy="-1.7">−</tspan><tspan dy="1.7"> CRCM 226x</tspan></text>
<text transform="translate(101.10,56.8) rotate(-89.9)" font-size="5.1" font-weight="bold" textLength="38.5" lengthAdjust="spacing">A<tspan font-size="3.6" dy="-1.7">−</tspan><tspan dy="1.7"> CRCM 237x</tspan></text>
<text transform="translate(106.44,56.8) rotate(-89.9)" font-size="5.1" font-weight="bold" textLength="38.5" lengthAdjust="spacing">A<tspan font-size="3.6" dy="-1.7">−</tspan><tspan dy="1.7"> CRCM 166x</tspan></text>
<text transform="translate(111.78,56.8) rotate(-89.9)" font-size="5.1" font-weight="bold" textLength="38.5" lengthAdjust="spacing">A<tspan font-size="3.6" dy="-1.7">−</tspan><tspan dy="1.7"> CRCM 174x</tspan></text>
<text transform="translate(117.13,56.8) rotate(-89.9)" font-size="5.1" font-weight="bold" textLength="38.5" lengthAdjust="spacing">A<tspan font-size="3.6" dy="-1.7">−</tspan><tspan dy="1.7"> CRCM 216x</tspan></text>
<text transform="translate(21.2,113) rotate(-90)" font-size="6.9" text-anchor="middle">BCSC-GES</text>
<text transform="translate(27.4,113) rotate(-90)" font-size="6.9" text-anchor="middle">(837 genes)</text>
<text transform="translate(17.9,187.5) rotate(-90)" font-size="5.8" text-anchor="middle">Correlation score</text>
<text transform="translate(23.7,187.5) rotate(-90)" font-size="5.8" text-anchor="middle">(Pearson test)</text>
<defs><linearGradient id="ck" x1="0" x2="1"><stop offset="0" stop-color="#1a9a40"/><stop offset="0.5" stop-color="#000"/><stop offset="1" stop-color="#c02020"/></linearGradient></defs>
<rect x="103" y="167.6" width="15" height="1.8" fill="url(#ck)"/>
<text x="84.4" y="170.9" font-size="3.5" font-weight="normal" text-anchor="start" fill="#333" >Log2 scale</text>
<text x="101.5" y="173.2" font-size="2.6" font-weight="normal" text-anchor="start" fill="#333" >−2</text>
<text x="109.5" y="173.2" font-size="2.6" font-weight="normal" text-anchor="start" fill="#333" >0</text>
<text x="116.6" y="173.2" font-size="2.6" font-weight="normal" text-anchor="start" fill="#333" >2</text>
<rect x="30.5" y="175.3" width="88.7" height="23.5" fill="none" stroke="#9a9a9a" stroke-width="0.7"/>
<line x1="30.5" y1="187.2" x2="119.2" y2="187.2" stroke="#888" stroke-width="0.8"/>
<line x1="56" y1="198.8" x2="56" y2="200" stroke="#aaa" stroke-width="0.5"/>
<line x1="86" y1="198.8" x2="86" y2="200" stroke="#aaa" stroke-width="0.5"/>
<line x1="117" y1="198.8" x2="117" y2="200" stroke="#aaa" stroke-width="0.5"/>
<text x="28.5" y="177.5" font-size="2.6" font-weight="normal" text-anchor="middle" fill="#444" >1</text>
<text x="28.5" y="188" font-size="2.6" font-weight="normal" text-anchor="middle" fill="#444" >0</text>
<text x="28.5" y="198.6" font-size="2.6" font-weight="normal" text-anchor="middle" fill="#444" >−1</text>
<polyline points="33.5,177 50,178 66,178.9 72.3,179.4 74,183 76.5,189 78.5,194.1 90,194.9 105,195.8 117.3,196.6" fill="none" stroke="#2a2a2a" stroke-width="1"/>
<line x1="74.9" y1="14" x2="74.9" y2="207" stroke="#e5843f" stroke-width="1.9" opacity="0.85"/>
<text x="157" y="23" font-size="13" font-weight="bold" text-anchor="start" fill="#000" >B</text>
<text x="346" y="19.8" font-size="7.4" font-weight="bold" text-anchor="middle">−Log (<tspan font-style="italic">P</tspan>)</text>
<text x="270.8" y="28.2" font-size="5.4" font-weight="normal" text-anchor="middle" fill="#000" >0</text>
<line x1="270.80" y1="30" x2="270.80" y2="32" stroke="#999" stroke-width="0.5"/>
<text x="349.45000000000005" y="28.2" font-size="5.4" font-weight="normal" text-anchor="middle" fill="#000" >5</text>
<line x1="349.45" y1="30" x2="349.45" y2="32" stroke="#999" stroke-width="0.5"/>
<text x="428.1" y="28.2" font-size="5.4" font-weight="normal" text-anchor="middle" fill="#000" >10</text>
<line x1="428.10" y1="30" x2="428.10" y2="32" stroke="#999" stroke-width="0.5"/>
<line x1="270.8" y1="31.5" x2="436" y2="31.5" stroke="#bbb" stroke-width="0.4"/>
<rect x="271.2" y="33.30" width="164.60" height="4.1" fill="#30429a" stroke="#1c2868" stroke-width="0.45"/>
<text x="266.8" y="37.9" font-size="4.77" font-weight="normal" text-anchor="end" fill="#000" stroke="#000" stroke-width="0.12">Cell-cycle control of chromosomal replication</text>
<rect x="271.2" y="38.87" width="107.10" height="4.1" fill="#30429a" stroke="#1c2868" stroke-width="0.45"/>
<text x="266.8" y="43.47" font-size="4.77" font-weight="normal" text-anchor="end" fill="#000" stroke="#000" stroke-width="0.12">Mismatch repair in eukaryotes</text>
<rect x="271.2" y="44.43" width="94.60" height="4.1" fill="#30429a" stroke="#1c2868" stroke-width="0.45"/>
<text x="266.8" y="49.03" font-size="4.77" font-weight="normal" text-anchor="end" fill="#000" stroke="#000" stroke-width="0.12">Role of BRCA1 in DNA damage response</text>
<rect x="271.2" y="50.00" width="77.70" height="4.1" fill="#30429a" stroke="#1c2868" stroke-width="0.45"/>
<text x="266.8" y="54.6" font-size="4.77" font-weight="normal" text-anchor="end" fill="#000" stroke="#000" stroke-width="0.12">Role of CHK proteins in cell-cycle checkpoint control</text>
<rect x="271.2" y="55.57" width="77.70" height="4.1" fill="#30429a" stroke="#1c2868" stroke-width="0.45"/>
<text x="266.8" y="60.17" font-size="4.77" font-weight="normal" text-anchor="end" fill="#000" stroke="#000" stroke-width="0.12">Pyrimidine metabolism</text>
<rect x="271.2" y="61.13" width="67.60" height="4.1" fill="#30429a" stroke="#1c2868" stroke-width="0.45"/>
<text x="266.8" y="65.73" font-size="4.77" font-weight="normal" text-anchor="end" fill="#000" stroke="#000" stroke-width="0.12">Hereditary breast cancer signaling</text>
<rect x="271.2" y="66.70" width="64.90" height="4.1" fill="#30429a" stroke="#1c2868" stroke-width="0.45"/>
<text x="266.8" y="71.3" font-size="4.77" font-weight="normal" text-anchor="end" fill="#000" stroke="#000" stroke-width="0.12">p53 Signaling</text>
<rect x="271.2" y="72.27" width="61.10" height="4.1" fill="#30429a" stroke="#1c2868" stroke-width="0.45"/>
<text x="266.8" y="76.87" font-size="4.77" font-weight="normal" text-anchor="end" fill="#000" stroke="#000" stroke-width="0.12">Protein ubiquitination pathway</text>
<rect x="271.2" y="77.84" width="34.30" height="4.1" fill="#30429a" stroke="#1c2868" stroke-width="0.45"/>
<text x="266.8" y="82.44" font-size="4.77" font-weight="normal" text-anchor="end" fill="#000" stroke="#000" stroke-width="0.12">Docosahexaenoic acid (DHA) signaling</text>
<rect x="271.2" y="83.40" width="31.50" height="4.1" fill="#30429a" stroke="#1c2868" stroke-width="0.45"/>
<text x="266.8" y="88.0" font-size="4.77" font-weight="normal" text-anchor="end" fill="#000" stroke="#000" stroke-width="0.12">Molecular mechanisms of cancer</text>
<rect x="271.2" y="88.97" width="31.50" height="4.1" fill="#30429a" stroke="#1c2868" stroke-width="0.45"/>
<text x="266.8" y="93.57" font-size="4.77" font-weight="normal" text-anchor="end" fill="#000" stroke="#000" stroke-width="0.12">RhoA Signaling</text>
<rect x="271.2" y="94.54" width="31.00" height="4.1" fill="#30429a" stroke="#1c2868" stroke-width="0.45"/>
<text x="266.8" y="99.14" font-size="4.77" font-weight="normal" text-anchor="end" fill="#000" stroke="#000" stroke-width="0.12">Cell-cycle: G1/S checkpoint regulation</text>
<rect x="271.2" y="100.10" width="30.50" height="4.1" fill="#30429a" stroke="#1c2868" stroke-width="0.45"/>
<text x="266.8" y="104.7" font-size="4.77" font-weight="normal" text-anchor="end" fill="#000" stroke="#000" stroke-width="0.12">Regulation of actin-based motility by Rho</text>
<rect x="271.2" y="105.67" width="29.80" height="4.1" fill="#30429a" stroke="#1c2868" stroke-width="0.45"/>
<text x="266.8" y="110.27" font-size="4.77" font-weight="normal" text-anchor="end" fill="#000" stroke="#000" stroke-width="0.12">Cell-cycle: G2/M DNA damage checkpoint regulation</text>
<rect x="271.2" y="111.24" width="28.60" height="4.1" fill="#30429a" stroke="#1c2868" stroke-width="0.45"/>
<text x="266.8" y="115.84" font-size="4.77" font-weight="normal" text-anchor="end" fill="#000" stroke="#000" stroke-width="0.12">Myc mediated apoptosis signaling</text>
<rect x="271.2" y="116.80" width="27.30" height="4.1" fill="#30429a" stroke="#1c2868" stroke-width="0.45"/>
<text x="266.8" y="121.4" font-size="4.77" font-weight="normal" text-anchor="end" fill="#000" stroke="#000" stroke-width="0.12">Role of IL-17A in psoriasis</text>
<rect x="271.2" y="122.37" width="27.00" height="4.1" fill="#30429a" stroke="#1c2868" stroke-width="0.45"/>
<text x="266.8" y="126.97" font-size="4.77" font-weight="normal" text-anchor="end" fill="#000" stroke="#000" stroke-width="0.12">Nucleotide excision repair pathway</text>
<rect x="271.2" y="127.94" width="26.60" height="4.1" fill="#30429a" stroke="#1c2868" stroke-width="0.45"/>
<text x="266.8" y="132.54" font-size="4.77" font-weight="normal" text-anchor="end" fill="#000" stroke="#000" stroke-width="0.12">Pancreatic adenocarcinoma signaling</text>
<rect x="271.2" y="133.51" width="26.60" height="4.1" fill="#30429a" stroke="#1c2868" stroke-width="0.45"/>
<text x="266.8" y="138.11" font-size="4.77" font-weight="normal" text-anchor="end" fill="#000" stroke="#000" stroke-width="0.12">Tumoricidal function of hepatic natural killer cells</text>
<rect x="271.2" y="139.07" width="26.40" height="4.1" fill="#30429a" stroke="#1c2868" stroke-width="0.45"/>
<text x="266.8" y="143.67" font-size="4.77" font-weight="normal" text-anchor="end" fill="#000" stroke="#000" stroke-width="0.12">Cyclins and cell cycle regulation</text>
<rect x="271.2" y="144.64" width="25.90" height="4.1" fill="#30429a" stroke="#1c2868" stroke-width="0.45"/>
<text x="266.8" y="149.24" font-size="4.77" font-weight="normal" text-anchor="end" fill="#000" stroke="#000" stroke-width="0.12">DNA double-strand break repair by homologous recombination</text>
<rect x="271.2" y="150.21" width="25.70" height="4.1" fill="#30429a" stroke="#1c2868" stroke-width="0.45"/>
<text x="266.8" y="154.81" font-size="4.77" font-weight="normal" text-anchor="end" fill="#000" stroke="#000" stroke-width="0.12">N-Glycan degradation</text>
<rect x="271.2" y="155.77" width="24.80" height="4.1" fill="#30429a" stroke="#1c2868" stroke-width="0.45"/>
<text x="266.8" y="160.37" font-size="4.77" font-weight="normal" text-anchor="end" fill="#000" stroke="#000" stroke-width="0.12">CD27 signaling in lymphocytes</text>
<rect x="271.2" y="161.34" width="24.70" height="4.1" fill="#30429a" stroke="#1c2868" stroke-width="0.45"/>
<text x="266.8" y="165.94" font-size="4.77" font-weight="normal" text-anchor="end" fill="#000" stroke="#000" stroke-width="0.12">Antiproliferative role of TOB in T-cell signaling</text>
<rect x="271.2" y="166.91" width="23.80" height="4.1" fill="#30429a" stroke="#1c2868" stroke-width="0.45"/>
<text x="266.8" y="171.51" font-size="4.77" font-weight="normal" text-anchor="end" fill="#000" stroke="#000" stroke-width="0.12">Antigen presentation pathway</text>
<rect x="271.2" y="172.48" width="22.90" height="4.1" fill="#30429a" stroke="#1c2868" stroke-width="0.45"/>
<text x="266.8" y="177.08" font-size="4.77" font-weight="normal" text-anchor="end" fill="#000" stroke="#000" stroke-width="0.12">Purine metabolism</text>
<rect x="271.2" y="178.04" width="22.70" height="4.1" fill="#30429a" stroke="#1c2868" stroke-width="0.45"/>
<text x="266.8" y="182.64" font-size="4.77" font-weight="normal" text-anchor="end" fill="#000" stroke="#000" stroke-width="0.12">Mitochondrial dysfunction</text>
<rect x="271.2" y="183.61" width="22.00" height="4.1" fill="#30429a" stroke="#1c2868" stroke-width="0.45"/>
<text x="266.8" y="188.21" font-size="4.77" font-weight="normal" text-anchor="end" fill="#000" stroke="#000" stroke-width="0.12">Sonic hedgehog signaling</text>
<rect x="271.2" y="189.18" width="21.70" height="4.1" fill="#30429a" stroke="#1c2868" stroke-width="0.45"/>
<text x="266.8" y="193.78" font-size="4.77" font-weight="normal" text-anchor="end" fill="#000" stroke="#000" stroke-width="0.12">N-Glycan biosynthesis</text>
<rect x="271.2" y="194.74" width="20.60" height="4.1" fill="#30429a" stroke="#1c2868" stroke-width="0.45"/>
<text x="266.8" y="199.34" font-size="4.77" font-weight="normal" text-anchor="end" fill="#000" stroke="#000" stroke-width="0.12">Retinoic acid mediated apoptosis signaling</text>
<line x1="271" y1="32" x2="271" y2="199" stroke="#1a1f50" stroke-width="0.6"/>
<line x1="280.9" y1="27.2" x2="280.9" y2="199.5" stroke="#e2733a" stroke-width="1.8" opacity="0.82"/>
<text x="382.8" y="61.8" font-size="13.3" font-weight="bold" text-anchor="start" fill="#000" >C</text>
<polyline points="413.5,70.2 505.8,70.2 505.8,162.4" fill="none" stroke="#a0a0a0" stroke-width="0.9"/>
<line x1="413.5" y1="70" x2="413.5" y2="162.4" stroke="#8a8a8a" stroke-width="1"/>
<line x1="413" y1="162.4" x2="506.2" y2="162.4" stroke="#8a8a8a" stroke-width="1"/>
<line x1="410.8" y1="73.70" x2="413.5" y2="73.70" stroke="#8a8a8a" stroke-width="0.8"/>
<text x="407.2" y="76.4" font-size="7.4" font-weight="bold" text-anchor="end" fill="#000" >1.0</text>
<line x1="410.8" y1="90.65" x2="413.5" y2="90.65" stroke="#8a8a8a" stroke-width="0.8"/>
<text x="407.2" y="93.35" font-size="7.4" font-weight="bold" text-anchor="end" fill="#000" >0.8</text>
<line x1="410.8" y1="107.60" x2="413.5" y2="107.60" stroke="#8a8a8a" stroke-width="0.8"/>
<text x="407.2" y="110.3" font-size="7.4" font-weight="bold" text-anchor="end" fill="#000" >0.6</text>
<line x1="410.8" y1="124.55" x2="413.5" y2="124.55" stroke="#8a8a8a" stroke-width="0.8"/>
<text x="407.2" y="127.25" font-size="7.4" font-weight="bold" text-anchor="end" fill="#000" >0.4</text>
<line x1="410.8" y1="141.50" x2="413.5" y2="141.50" stroke="#8a8a8a" stroke-width="0.8"/>
<text x="407.2" y="144.2" font-size="7.4" font-weight="bold" text-anchor="end" fill="#000" >0.2</text>
<line x1="410.8" y1="158.45" x2="413.5" y2="158.45" stroke="#8a8a8a" stroke-width="0.8"/>
<text x="407.2" y="161.15" font-size="7.4" font-weight="bold" text-anchor="end" fill="#000" >0.0</text>
<line x1="413.70" y1="162.4" x2="413.70" y2="164.8" stroke="#8a8a8a" stroke-width="0.8"/>
<text x="413.7" y="177.3" font-size="7.4" font-weight="bold" text-anchor="middle" fill="#000" >0</text>
<line x1="428.47" y1="162.4" x2="428.47" y2="164.8" stroke="#8a8a8a" stroke-width="0.8"/>
<text x="428.47" y="177.3" font-size="7.4" font-weight="bold" text-anchor="middle" fill="#000" >20</text>
<line x1="443.24" y1="162.4" x2="443.24" y2="164.8" stroke="#8a8a8a" stroke-width="0.8"/>
<text x="443.24" y="177.3" font-size="7.4" font-weight="bold" text-anchor="middle" fill="#000" >40</text>
<line x1="458.01" y1="162.4" x2="458.01" y2="164.8" stroke="#8a8a8a" stroke-width="0.8"/>
<text x="458.01" y="177.3" font-size="7.4" font-weight="bold" text-anchor="middle" fill="#000" >60</text>
<line x1="472.78" y1="162.4" x2="472.78" y2="164.8" stroke="#8a8a8a" stroke-width="0.8"/>
<text x="472.78" y="177.3" font-size="7.4" font-weight="bold" text-anchor="middle" fill="#000" >80</text>
<line x1="487.55" y1="162.4" x2="487.55" y2="164.8" stroke="#8a8a8a" stroke-width="0.8"/>
<text x="487.55" y="177.3" font-size="7.4" font-weight="bold" text-anchor="middle" fill="#000" >100</text>
<line x1="502.32" y1="162.4" x2="502.32" y2="164.8" stroke="#8a8a8a" stroke-width="0.8"/>
<text x="502.32" y="177.3" font-size="7.4" font-weight="bold" text-anchor="middle" fill="#000" >120</text>
<text x="459.8" y="189.2" font-size="8.4" font-weight="bold" text-anchor="middle" fill="#000" >Days after surgery</text>
<text transform="translate(390.4,116.5) rotate(-90)" font-size="8.6" font-weight="bold" text-anchor="middle">MFS</text>
<polyline points="413.6,73.5 417.2,74 422.8,77.5 426,78.4 430.8,80 434,82 438.9,84.4 443.7,86.3 448.8,87.8 457.5,91 466.3,93 475.1,94.5 483.9,95.7 492.6,97.1 505.8,98.3" fill="none" stroke="#2a2a2a" stroke-width="1.1" stroke-linejoin="round"/>
<polyline points="413.6,73.5 417.2,74 422.8,77.5 426,81.2 430,84.8 434,88 438.9,91.2 443.7,94 447,94.8 457.5,98.3 466.3,100.1 475.1,101.8 485.6,102.7 496.1,103.9 505.8,105.7" fill="none" stroke="#d8323c" stroke-width="1.1" stroke-linejoin="round"/>
<text x="501.8" y="86.8" font-size="5.5" font-weight="bold" text-anchor="end" fill="#000" >non–BCSC-like</text>
<text x="501.2" y="114.4" font-size="5.6" font-weight="bold" text-anchor="end" fill="#d8323c" >BCSC-like</text>
<text x="421.2" y="155.4" font-size="6.8" font-weight="bold"><tspan font-style="italic">P</tspan> = 5x10<tspan font-size="4.6" dy="-2.8">−4</tspan></text>
<text x="13.6" y="229.8" font-size="13" font-weight="bold" text-anchor="start" fill="#000" >D</text>
<line x1="40" y1="235.4" x2="236" y2="235.4" stroke="#333" stroke-width="0.9"/>
<line x1="40" y1="258.4" x2="236" y2="258.4" stroke="#333" stroke-width="0.9"/>
<line x1="40" y1="365.8" x2="236" y2="365.8" stroke="#333" stroke-width="1.5"/>
<text x="74.8" y="254.6" font-size="6.4" font-weight="bold" text-anchor="middle" fill="#000" >Variable</text>
<text x="148.3" y="254.6" font-size="6.3" font-weight="bold" text-anchor="middle" fill="#000" >HR (95% CI)</text>
<text x="212.4" y="254.9" font-size="7.2" font-weight="bold" text-anchor="middle" fill="#000" font-style="italic">P</text>
<text x="74.8" y="277.9" font-size="6.2" font-weight="normal" text-anchor="middle" fill="#000" >ER</text>
<text x="148.3" y="277.9" font-size="6.2" font-weight="normal" text-anchor="middle" fill="#000" >0.72  (0.54–0.97)</text>
<text x="212.2" y="277.9" font-size="6.2" font-weight="normal" text-anchor="middle" fill="#000" >2.0E–02</text>
<text x="74.8" y="300.3" font-size="6.2" font-weight="normal" text-anchor="middle" fill="#000" >pN</text>
<text x="148.3" y="300.3" font-size="6.2" font-weight="normal" text-anchor="middle" fill="#000" >1.67  (1.24–2.24)</text>
<text x="212.2" y="300.3" font-size="6.2" font-weight="normal" text-anchor="middle" fill="#000" >6.8E–04</text>
<text x="74.8" y="324.5" font-size="6.2" font-weight="normal" text-anchor="middle" fill="#000" >pT</text>
<text x="148.3" y="324.5" font-size="6.2" font-weight="normal" text-anchor="middle" fill="#000" >1.38  (1.02–1.86)</text>
<text x="212.2" y="324.5" font-size="6.2" font-weight="normal" text-anchor="middle" fill="#000" >3.5E–02</text>
<text x="74.8" y="347.7" font-size="6.2" font-weight="normal" text-anchor="middle" fill="#000" >SBR grade</text>
<text x="148.3" y="347.7" font-size="6.2" font-weight="normal" text-anchor="middle" fill="#000" >1.99  (1.24–3.18)</text>
<text x="212.2" y="347.7" font-size="6.2" font-weight="normal" text-anchor="middle" fill="#000" >4.1E–03</text>
<text x="74.8" y="362.2" font-size="6.2" font-weight="bold" text-anchor="middle" fill="#000" >BCSC-GES</text>
<text x="148.3" y="362.2" font-size="6.2" font-weight="bold" text-anchor="middle" fill="#000" >1.39 (1.04–1.87)</text>
<text x="212.2" y="362.2" font-size="6.2" font-weight="bold" text-anchor="middle" fill="#000" >2.7E–02</text>
<text x="272.5" y="230" font-size="12.2" font-weight="bold" text-anchor="start" fill="#000" >E</text>
<ellipse cx="340.6" cy="317.9" rx="42.3" ry="71.8" transform="rotate(-34.9 340.6 317.9)" fill="rgb(192,72,72)" fill-opacity="0.3" stroke="none"/>
<ellipse cx="340.6" cy="317.9" rx="42.3" ry="71.8" transform="rotate(-34.9 340.6 317.9)" fill="none" stroke="#d42a32" stroke-width="2.0"/>
<ellipse cx="367.1" cy="299.6" rx="42.7" ry="73.9" transform="rotate(-34.0 367.1 299.6)" fill="rgb(125,165,112)" fill-opacity="0.3" stroke="none"/>
<ellipse cx="367.1" cy="299.6" rx="42.7" ry="73.9" transform="rotate(-34.0 367.1 299.6)" fill="none" stroke="#78c25a" stroke-width="2.0"/>
<ellipse cx="364.8" cy="303.4" rx="43.0" ry="71.0" transform="rotate(34.0 364.8 303.4)" fill="rgb(165,112,178)" fill-opacity="0.3" stroke="none"/>
<ellipse cx="364.8" cy="303.4" rx="43.0" ry="71.0" transform="rotate(34.0 364.8 303.4)" fill="none" stroke="#9858a8" stroke-width="2.0"/>
<ellipse cx="392.5" cy="316.6" rx="42.6" ry="71.4" transform="rotate(35.1 392.5 316.6)" fill="rgb(85,98,152)" fill-opacity="0.3" stroke="none"/>
<ellipse cx="392.5" cy="316.6" rx="42.6" ry="71.4" transform="rotate(35.1 392.5 316.6)" fill="none" stroke="#3040a0" stroke-width="2.0"/>
<text x="302" y="292.6" font-size="6.4" font-weight="bold" text-anchor="middle" fill="#000" >571</text>
<text x="342.5" y="249.3" font-size="6.4" font-weight="bold" text-anchor="middle" fill="#000" >360</text>
<text x="388" y="250.0" font-size="6.4" font-weight="bold" text-anchor="middle" fill="#000" >1034</text>
<text x="428.7" y="289.2" font-size="6.4" font-weight="bold" text-anchor="middle" fill="#000" >764</text>
<text x="324" y="267.1" font-size="6.4" font-weight="bold" text-anchor="middle" fill="#000" >15</text>
<text x="365.8" y="261.8" font-size="6.4" font-weight="bold" text-anchor="middle" fill="#000" >161</text>
<text x="403" y="267.6" font-size="6.4" font-weight="bold" text-anchor="middle" fill="#000" >143</text>
<text x="337.5" y="293.5" font-size="6.4" font-weight="bold" text-anchor="middle" fill="#000" >2</text>
<text x="389.5" y="297.2" font-size="6.4" font-weight="bold" text-anchor="middle" fill="#000" >182</text>
<text x="403.7" y="342.8" font-size="6.4" font-weight="bold" text-anchor="middle" fill="#000" >612</text>
<text x="328" y="350.2" font-size="6.4" font-weight="bold" text-anchor="middle" fill="#000" >46</text>
<text x="347.7" y="359.2" font-size="6.4" font-weight="bold" text-anchor="middle" fill="#000" >20</text>
<text x="383" y="356.7" font-size="6.4" font-weight="bold" text-anchor="middle" fill="#000" >69</text>
<text x="364.8" y="372.7" font-size="6.4" font-weight="bold" text-anchor="middle" fill="#000" >95</text>
<text x="366.6" y="333" font-size="18.8" font-weight="bold" text-anchor="middle" fill="#000" >19</text>
<text x="295.6" y="242.0" font-size="6.0" font-weight="bold" text-anchor="middle" fill="#c04038" >BCSC</text>
<text x="337.2" y="223.9" font-size="5.9" font-weight="bold" text-anchor="middle" fill="#62a848" >ESC</text>
<text x="383.3" y="227.3" font-size="5.9" font-weight="bold" text-anchor="middle" fill="#9058a0" >HSC</text>
<text x="435.7" y="246.6" font-size="5.9" font-weight="bold" text-anchor="middle" fill="#4050a0" >NSC</text>
<text x="455" y="229.5" font-size="7.1" font-weight="bold" text-decoration="underline">CE-4SC (19)</text>
<text x="463" y="242.6" font-size="6.4" font-weight="bold" text-anchor="start" fill="#000" >RAD23B</text>
<text x="463" y="250.17" font-size="6.4" font-weight="bold" text-anchor="start" fill="#000" >MSH2</text>
<text x="463" y="257.73" font-size="6.4" font-weight="bold" text-anchor="start" fill="#000" >ACAT2</text>
<text x="463" y="265.3" font-size="6.4" font-weight="bold" text-anchor="start" fill="#000" >GCLM</text>
<text x="463" y="272.87" font-size="6.4" font-weight="bold" text-anchor="start" fill="#000" >FCF1</text>
<text x="463" y="280.44" font-size="6.4" font-weight="bold" text-anchor="start" fill="#000" >SEC23A</text>
<text x="463" y="288.0" font-size="6.4" font-weight="bold" text-anchor="start" fill="#000" >PIGX</text>
<text x="463" y="295.57" font-size="6.4" font-weight="bold" text-anchor="start" fill="#000" >PHTF2</text>
<text x="463" y="303.14" font-size="6.4" font-weight="bold" text-anchor="start" fill="#000" >KLHL7</text>
<text x="463" y="310.7" font-size="6.4" font-weight="bold" text-anchor="start" fill="#000" >UMPS</text>
<text x="463" y="318.27" font-size="6.4" font-weight="bold" text-anchor="start" fill="#000" >EIF4EBP1</text>
<text x="463" y="325.84" font-size="6.4" font-weight="bold" text-anchor="start" fill="#000" >GFER</text>
<text x="463" y="333.4" font-size="6.4" font-weight="bold" text-anchor="start" fill="#000" >MRPS10</text>
<text x="463" y="340.97" font-size="6.4" font-weight="bold" text-anchor="start" fill="#000" >CBR3</text>
<text x="463" y="348.54" font-size="6.4" font-weight="bold" text-anchor="start" fill="#000" >MDFIC</text>
<text x="463" y="356.11" font-size="6.4" font-weight="bold" text-anchor="start" fill="#000" >NDUFAF1</text>
<text x="463" y="363.67" font-size="6.4" font-weight="bold" text-anchor="start" fill="#000" >DTYMK</text>
<text x="463" y="371.24" font-size="6.4" font-weight="bold" text-anchor="start" fill="#000" >SMAD1</text>
<text x="463" y="378.81" font-size="6.4" font-weight="bold" text-anchor="start" fill="#000" >SEC23IP</text>
</svg>
</body></html>
